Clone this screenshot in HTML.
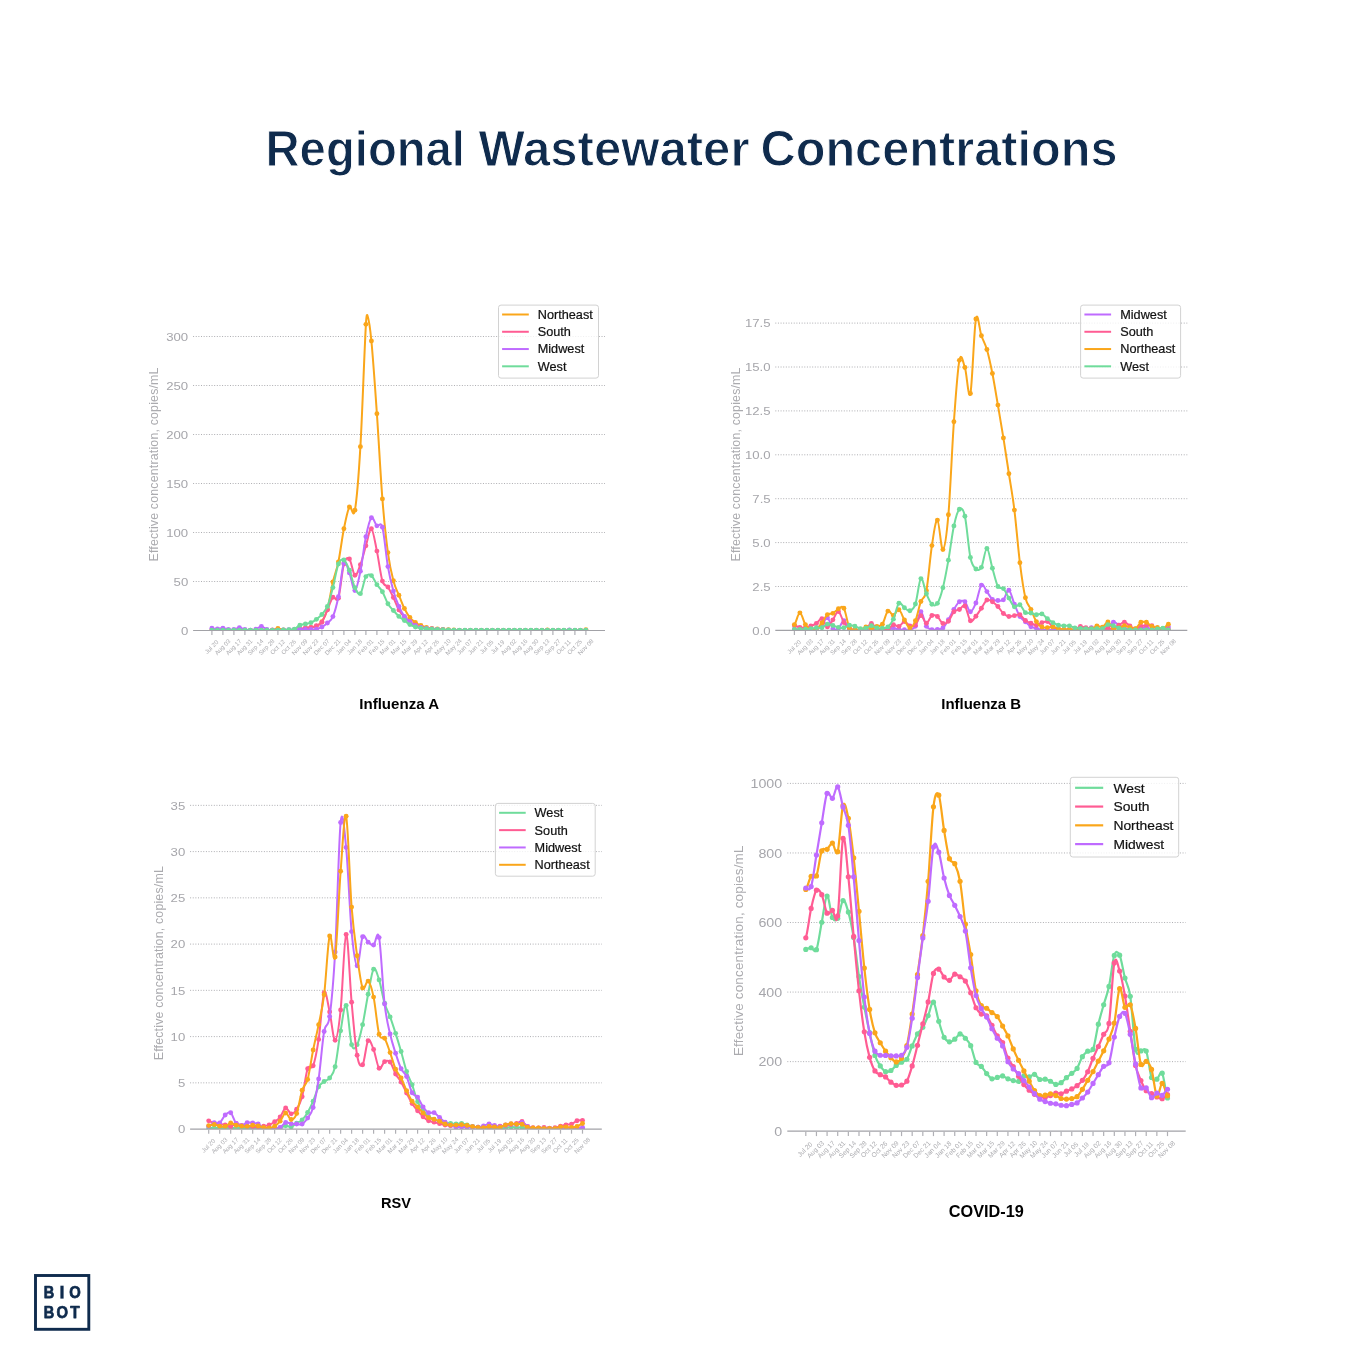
<!DOCTYPE html>
<html><head><meta charset="utf-8"><title>Regional Wastewater Concentrations</title>
<style>
html,body{margin:0;padding:0;background:#fff;}
body{width:1362px;height:1362px;overflow:hidden;font-family:"Liberation Sans",sans-serif;}
svg{display:block;font-family:"Liberation Sans",sans-serif;will-change:transform;}
.g{stroke:#aeaeb2;stroke-width:1;stroke-dasharray:1 1.635;}
.a{stroke:#a2a2a7;stroke-width:1.2;}
.t{stroke:#b0b0b5;stroke-width:1.2;}
.yt{fill:#a6a6ab;text-anchor:end;}
.xt{fill:#acacb0;text-anchor:middle;}
.yl{fill:#ababaf;text-anchor:middle;}
.lt{fill:#111;stroke:#111;stroke-width:0.2;}
.ct{fill:#000;font-weight:bold;text-anchor:middle;}
.hs{fill:#0f2b4d;font-weight:bold;text-anchor:start;stroke:#fff;stroke-width:1;}
.lg{fill:#0f2b4d;font-weight:bold;text-anchor:middle;stroke:#0f2b4d;stroke-width:0.75;stroke-linejoin:round;}
</style></head><body>
<svg width="1362" height="1362" viewBox="0 0 1362 1362">
<rect width="1362" height="1362" fill="#fff"/>
<text x="265.5" y="165.5" class="hs" font-size="50.3" textLength="199.5" lengthAdjust="spacingAndGlyphs">Regional</text>
<text x="478.5" y="165.5" class="hs" font-size="50.3" textLength="271" lengthAdjust="spacingAndGlyphs">Wastewater</text>
<text x="760.5" y="165.5" class="hs" font-size="50.3" textLength="357" lengthAdjust="spacingAndGlyphs">Concentrations</text>
<clipPath id="clipInfluenzaA"><rect x="193.1" y="230.5" width="411.9" height="400"/></clipPath>
<text transform="translate(188.2 634.85) scale(1.125 1)" class="yt" font-size="11.7">0</text>
<line x1="193.1" x2="605" y1="581.5" y2="581.5" class="g"/>
<text transform="translate(188.2 585.85) scale(1.125 1)" class="yt" font-size="11.7">50</text>
<line x1="193.1" x2="605" y1="532.5" y2="532.5" class="g"/>
<text transform="translate(188.2 536.85) scale(1.125 1)" class="yt" font-size="11.7">100</text>
<line x1="193.1" x2="605" y1="483.5" y2="483.5" class="g"/>
<text transform="translate(188.2 487.85) scale(1.125 1)" class="yt" font-size="11.7">150</text>
<line x1="193.1" x2="605" y1="434.5" y2="434.5" class="g"/>
<text transform="translate(188.2 438.85) scale(1.125 1)" class="yt" font-size="11.7">200</text>
<line x1="193.1" x2="605" y1="385.5" y2="385.5" class="g"/>
<text transform="translate(188.2 389.85) scale(1.125 1)" class="yt" font-size="11.7">250</text>
<line x1="193.1" x2="605" y1="336.5" y2="336.5" class="g"/>
<text transform="translate(188.2 340.85) scale(1.125 1)" class="yt" font-size="11.7">300</text>
<g clip-path="url(#clipInfluenzaA)">
<path d="M211.9,630.38C213.73,630.38 215.57,630.38 217.4,630.38C219.23,630.38 221.07,630.38 222.9,630.38C224.73,630.38 226.57,630.38 228.4,630.38C230.23,630.38 232.07,630.38 233.9,630.38C235.73,630.38 237.57,630.38 239.4,630.38C241.23,630.38 243.07,630.38 244.9,630.38C246.73,630.38 248.57,630.38 250.4,630.38C252.23,630.38 254.07,630.38 255.9,630.38C257.73,630.38 259.57,630.38 261.4,630.38C263.23,630.38 265.07,630.38 266.9,630.38C268.73,630.38 270.57,630.69 272.4,630.38C274.23,630.08 276.07,628.6 277.9,628.54C279.73,628.48 281.57,629.7 283.4,630.01C285.23,630.32 287.07,630.32 288.9,630.38C290.73,630.44 292.57,630.38 294.4,630.38C296.23,630.38 298.07,630.69 299.9,630.38C301.73,630.08 303.57,629.01 305.4,628.54C307.23,628.07 309.07,627.97 310.9,627.56C312.73,627.15 314.57,627.07 316.4,626.09C318.23,625.11 320.07,624.47 321.9,621.68C323.73,618.89 325.57,615.96 327.4,609.33C329.23,602.7 331.07,589.8 332.9,581.89C334.73,573.99 336.57,570.75 338.4,561.9C340.23,553.05 342.07,537.92 343.9,528.78C345.73,519.63 347.57,510.12 349.4,507.02C351.23,503.92 353.07,520.22 354.9,510.16C356.73,500.09 358.57,477.62 360.4,446.65C362.23,415.68 364.07,357.92 365.9,324.35C366.45,314.28 367,314.06 367.55,315.72C368.83,319.61 370.12,327.54 371.4,341.01C373.23,360.24 375.07,387.51 376.9,413.82C378.73,440.13 380.57,475.76 382.4,498.89C384.23,522.01 386.07,538.94 387.9,552.59C389.73,566.24 391.57,573.71 393.4,580.81C395.23,587.92 397.07,590.6 398.9,595.22C400.73,599.84 402.57,604.82 404.4,608.55C406.23,612.27 408.07,615.24 409.9,617.56C411.73,619.88 413.57,621.16 415.4,622.46C417.23,623.77 419.07,624.55 420.9,625.4C422.73,626.25 424.57,627.04 426.4,627.56C428.23,628.08 430.07,628.29 431.9,628.54C433.73,628.78 435.57,628.87 437.4,629.03C439.23,629.19 441.07,629.39 442.9,629.52C444.73,629.65 446.57,629.73 448.4,629.81C450.23,629.9 452.07,629.92 453.9,630.01C455.73,630.1 457.57,630.32 459.4,630.38C461.23,630.44 463.07,630.38 464.9,630.38C466.73,630.38 468.57,630.38 470.4,630.38C472.23,630.38 474.07,630.38 475.9,630.38C477.73,630.38 479.57,630.38 481.4,630.38C483.23,630.38 485.07,630.38 486.9,630.38C488.73,630.38 490.57,630.38 492.4,630.38C494.23,630.38 496.07,630.38 497.9,630.38C499.73,630.38 501.57,630.38 503.4,630.38C505.23,630.38 507.07,630.38 508.9,630.38C510.73,630.38 512.57,630.38 514.4,630.38C516.23,630.38 518.07,630.38 519.9,630.38C521.73,630.38 523.57,630.38 525.4,630.38C527.23,630.38 529.07,630.38 530.9,630.38C532.73,630.38 534.57,630.38 536.4,630.38C538.23,630.38 540.07,630.44 541.9,630.38C543.73,630.32 545.57,630.01 547.4,630.01C549.23,630.01 551.07,630.32 552.9,630.38C554.73,630.44 556.57,630.38 558.4,630.38C560.23,630.38 562.07,630.38 563.9,630.38C565.73,630.38 567.57,630.38 569.4,630.38C571.23,630.38 573.07,630.38 574.9,630.38C576.73,630.38 578.57,630.51 580.4,630.38C582.23,630.25 584.07,629.75 585.9,629.62" fill="none" stroke="#FAA61A" stroke-width="2" stroke-linejoin="round" stroke-linecap="round"/>
<g fill="#FAA61A"><circle cx="211.9" cy="630.38" r="2.45"/><circle cx="217.4" cy="630.38" r="2.45"/><circle cx="222.9" cy="630.38" r="2.45"/><circle cx="228.4" cy="630.38" r="2.45"/><circle cx="233.9" cy="630.38" r="2.45"/><circle cx="239.4" cy="630.38" r="2.45"/><circle cx="244.9" cy="630.38" r="2.45"/><circle cx="250.4" cy="630.38" r="2.45"/><circle cx="255.9" cy="630.38" r="2.45"/><circle cx="261.4" cy="630.38" r="2.45"/><circle cx="266.9" cy="630.38" r="2.45"/><circle cx="272.4" cy="630.38" r="2.45"/><circle cx="277.9" cy="628.54" r="2.45"/><circle cx="283.4" cy="630.01" r="2.45"/><circle cx="288.9" cy="630.38" r="2.45"/><circle cx="294.4" cy="630.38" r="2.45"/><circle cx="299.9" cy="630.38" r="2.45"/><circle cx="305.4" cy="628.54" r="2.45"/><circle cx="310.9" cy="627.56" r="2.45"/><circle cx="316.4" cy="626.09" r="2.45"/><circle cx="321.9" cy="621.68" r="2.45"/><circle cx="327.4" cy="609.33" r="2.45"/><circle cx="332.9" cy="581.89" r="2.45"/><circle cx="338.4" cy="561.9" r="2.45"/><circle cx="343.9" cy="528.78" r="2.45"/><circle cx="349.4" cy="507.02" r="2.45"/><circle cx="354.9" cy="510.16" r="2.45"/><circle cx="360.4" cy="446.65" r="2.45"/><circle cx="365.9" cy="324.35" r="2.45"/><circle cx="371.4" cy="341.01" r="2.45"/><circle cx="376.9" cy="413.82" r="2.45"/><circle cx="382.4" cy="498.89" r="2.45"/><circle cx="387.9" cy="552.59" r="2.45"/><circle cx="393.4" cy="580.81" r="2.45"/><circle cx="398.9" cy="595.22" r="2.45"/><circle cx="404.4" cy="608.55" r="2.45"/><circle cx="409.9" cy="617.56" r="2.45"/><circle cx="415.4" cy="622.46" r="2.45"/><circle cx="420.9" cy="625.4" r="2.45"/><circle cx="426.4" cy="627.56" r="2.45"/><circle cx="431.9" cy="628.54" r="2.45"/><circle cx="437.4" cy="629.03" r="2.45"/><circle cx="442.9" cy="629.52" r="2.45"/><circle cx="448.4" cy="629.81" r="2.45"/><circle cx="453.9" cy="630.01" r="2.45"/><circle cx="459.4" cy="630.38" r="2.45"/><circle cx="464.9" cy="630.38" r="2.45"/><circle cx="470.4" cy="630.38" r="2.45"/><circle cx="475.9" cy="630.38" r="2.45"/><circle cx="481.4" cy="630.38" r="2.45"/><circle cx="486.9" cy="630.38" r="2.45"/><circle cx="492.4" cy="630.38" r="2.45"/><circle cx="497.9" cy="630.38" r="2.45"/><circle cx="503.4" cy="630.38" r="2.45"/><circle cx="508.9" cy="630.38" r="2.45"/><circle cx="514.4" cy="630.38" r="2.45"/><circle cx="519.9" cy="630.38" r="2.45"/><circle cx="525.4" cy="630.38" r="2.45"/><circle cx="530.9" cy="630.38" r="2.45"/><circle cx="536.4" cy="630.38" r="2.45"/><circle cx="541.9" cy="630.38" r="2.45"/><circle cx="547.4" cy="630.01" r="2.45"/><circle cx="552.9" cy="630.38" r="2.45"/><circle cx="558.4" cy="630.38" r="2.45"/><circle cx="563.9" cy="630.38" r="2.45"/><circle cx="569.4" cy="630.38" r="2.45"/><circle cx="574.9" cy="630.38" r="2.45"/><circle cx="580.4" cy="630.38" r="2.45"/><circle cx="585.9" cy="629.62" r="2.45"/></g>
<path d="M211.9,630.38C213.73,630.38 215.57,630.38 217.4,630.38C219.23,630.38 221.07,630.38 222.9,630.38C224.73,630.38 226.57,630.38 228.4,630.38C230.23,630.38 232.07,630.38 233.9,630.38C235.73,630.38 237.57,630.38 239.4,630.38C241.23,630.38 243.07,630.38 244.9,630.38C246.73,630.38 248.57,630.38 250.4,630.38C252.23,630.38 254.07,630.38 255.9,630.38C257.73,630.38 259.57,630.38 261.4,630.38C263.23,630.38 265.07,630.46 266.9,630.38C268.73,630.3 270.57,629.91 272.4,629.91C274.23,629.91 276.07,630.3 277.9,630.38C279.73,630.46 281.57,630.38 283.4,630.38C285.23,630.38 287.07,630.38 288.9,630.38C290.73,630.38 292.57,630.61 294.4,630.38C296.23,630.16 298.07,629.47 299.9,629.03C301.73,628.59 303.57,628.03 305.4,627.76C307.23,627.48 309.07,627.69 310.9,627.36C312.73,627.04 314.57,626.65 316.4,625.8C318.23,624.95 320.07,624.91 321.9,622.27C323.73,619.62 325.57,614.08 327.4,609.92C329.23,605.75 331.07,599.24 332.9,597.28C334.73,595.32 336.57,603.7 338.4,598.16C340.23,592.62 342.07,570.57 343.9,564.06C345.73,557.54 347.57,557.2 349.4,559.06C351.23,560.92 353.07,574.3 354.9,575.23C356.73,576.16 358.57,569.54 360.4,564.64C362.23,559.74 364.07,551.81 365.9,545.83C367.73,539.85 369.57,527.89 371.4,528.78C373.23,529.66 375.07,542.4 376.9,551.12C378.73,559.84 380.57,575.13 382.4,581.11C384.23,587.09 386.07,584.24 387.9,586.99C389.73,589.73 391.57,593.75 393.4,597.57C395.23,601.39 397.07,606.69 398.9,609.92C400.73,613.15 402.57,615.02 404.4,616.98C406.23,618.94 408.07,620.31 409.9,621.68C411.73,623.05 413.57,624.26 415.4,625.21C417.23,626.16 419.07,626.81 420.9,627.36C422.73,627.92 424.57,628.26 426.4,628.54C428.23,628.82 430.07,628.87 431.9,629.03C433.73,629.19 435.57,629.39 437.4,629.52C439.23,629.65 441.07,629.72 442.9,629.81C444.73,629.91 446.57,630.01 448.4,630.11C450.23,630.2 452.07,630.34 453.9,630.38C455.73,630.43 457.57,630.38 459.4,630.38C461.23,630.38 463.07,630.38 464.9,630.38C466.73,630.38 468.57,630.38 470.4,630.38C472.23,630.38 474.07,630.38 475.9,630.38C477.73,630.38 479.57,630.38 481.4,630.38C483.23,630.38 485.07,630.38 486.9,630.38C488.73,630.38 490.57,630.38 492.4,630.38C494.23,630.38 496.07,630.38 497.9,630.38C499.73,630.38 501.57,630.38 503.4,630.38C505.23,630.38 507.07,630.38 508.9,630.38C510.73,630.38 512.57,630.38 514.4,630.38C516.23,630.38 518.07,630.38 519.9,630.38C521.73,630.38 523.57,630.38 525.4,630.38C527.23,630.38 529.07,630.38 530.9,630.38C532.73,630.38 534.57,630.38 536.4,630.38C538.23,630.38 540.07,630.38 541.9,630.38C543.73,630.38 545.57,630.38 547.4,630.38C549.23,630.38 551.07,630.38 552.9,630.38C554.73,630.38 556.57,630.38 558.4,630.38C560.23,630.38 562.07,630.38 563.9,630.38C565.73,630.38 567.57,630.38 569.4,630.38C571.23,630.38 573.07,630.38 574.9,630.38C576.73,630.38 578.57,630.38 580.4,630.38C582.23,630.38 584.07,630.38 585.9,630.38" fill="none" stroke="#FF5C93" stroke-width="2" stroke-linejoin="round" stroke-linecap="round"/>
<g fill="#FF5C93"><circle cx="211.9" cy="630.38" r="2.45"/><circle cx="217.4" cy="630.38" r="2.45"/><circle cx="222.9" cy="630.38" r="2.45"/><circle cx="228.4" cy="630.38" r="2.45"/><circle cx="233.9" cy="630.38" r="2.45"/><circle cx="239.4" cy="630.38" r="2.45"/><circle cx="244.9" cy="630.38" r="2.45"/><circle cx="250.4" cy="630.38" r="2.45"/><circle cx="255.9" cy="630.38" r="2.45"/><circle cx="261.4" cy="630.38" r="2.45"/><circle cx="266.9" cy="630.38" r="2.45"/><circle cx="272.4" cy="629.91" r="2.45"/><circle cx="277.9" cy="630.38" r="2.45"/><circle cx="283.4" cy="630.38" r="2.45"/><circle cx="288.9" cy="630.38" r="2.45"/><circle cx="294.4" cy="630.38" r="2.45"/><circle cx="299.9" cy="629.03" r="2.45"/><circle cx="305.4" cy="627.76" r="2.45"/><circle cx="310.9" cy="627.36" r="2.45"/><circle cx="316.4" cy="625.8" r="2.45"/><circle cx="321.9" cy="622.27" r="2.45"/><circle cx="327.4" cy="609.92" r="2.45"/><circle cx="332.9" cy="597.28" r="2.45"/><circle cx="338.4" cy="598.16" r="2.45"/><circle cx="343.9" cy="564.06" r="2.45"/><circle cx="349.4" cy="559.06" r="2.45"/><circle cx="354.9" cy="575.23" r="2.45"/><circle cx="360.4" cy="564.64" r="2.45"/><circle cx="365.9" cy="545.83" r="2.45"/><circle cx="371.4" cy="528.78" r="2.45"/><circle cx="376.9" cy="551.12" r="2.45"/><circle cx="382.4" cy="581.11" r="2.45"/><circle cx="387.9" cy="586.99" r="2.45"/><circle cx="393.4" cy="597.57" r="2.45"/><circle cx="398.9" cy="609.92" r="2.45"/><circle cx="404.4" cy="616.98" r="2.45"/><circle cx="409.9" cy="621.68" r="2.45"/><circle cx="415.4" cy="625.21" r="2.45"/><circle cx="420.9" cy="627.36" r="2.45"/><circle cx="426.4" cy="628.54" r="2.45"/><circle cx="431.9" cy="629.03" r="2.45"/><circle cx="437.4" cy="629.52" r="2.45"/><circle cx="442.9" cy="629.81" r="2.45"/><circle cx="448.4" cy="630.11" r="2.45"/><circle cx="453.9" cy="630.38" r="2.45"/><circle cx="459.4" cy="630.38" r="2.45"/><circle cx="464.9" cy="630.38" r="2.45"/><circle cx="470.4" cy="630.38" r="2.45"/><circle cx="475.9" cy="630.38" r="2.45"/><circle cx="481.4" cy="630.38" r="2.45"/><circle cx="486.9" cy="630.38" r="2.45"/><circle cx="492.4" cy="630.38" r="2.45"/><circle cx="497.9" cy="630.38" r="2.45"/><circle cx="503.4" cy="630.38" r="2.45"/><circle cx="508.9" cy="630.38" r="2.45"/><circle cx="514.4" cy="630.38" r="2.45"/><circle cx="519.9" cy="630.38" r="2.45"/><circle cx="525.4" cy="630.38" r="2.45"/><circle cx="530.9" cy="630.38" r="2.45"/><circle cx="536.4" cy="630.38" r="2.45"/><circle cx="541.9" cy="630.38" r="2.45"/><circle cx="547.4" cy="630.38" r="2.45"/><circle cx="552.9" cy="630.38" r="2.45"/><circle cx="558.4" cy="630.38" r="2.45"/><circle cx="563.9" cy="630.38" r="2.45"/><circle cx="569.4" cy="630.38" r="2.45"/><circle cx="574.9" cy="630.38" r="2.45"/><circle cx="580.4" cy="630.38" r="2.45"/><circle cx="585.9" cy="630.38" r="2.45"/></g>
<path d="M211.9,628.25C213.73,628.38 215.57,629.05 217.4,629.03C219.23,629.01 221.07,628.08 222.9,628.15C224.73,628.21 226.57,629.19 228.4,629.42C230.23,629.65 232.07,629.8 233.9,629.52C235.73,629.24 237.57,627.77 239.4,627.76C241.23,627.74 243.07,629.01 244.9,629.42C246.73,629.83 248.57,630.24 250.4,630.21C252.23,630.17 254.07,629.85 255.9,629.23C257.73,628.61 259.57,626.45 261.4,626.48C263.23,626.51 265.07,628.8 266.9,629.42C268.73,630.04 270.57,630.08 272.4,630.21C274.23,630.34 276.07,630.24 277.9,630.21C279.73,630.17 281.57,630.09 283.4,630.01C285.23,629.93 287.07,629.8 288.9,629.72C290.73,629.63 292.57,629.55 294.4,629.52C296.23,629.49 298.07,629.52 299.9,629.52C301.73,629.52 303.57,629.52 305.4,629.52C307.23,629.52 309.07,629.55 310.9,629.52C312.73,629.49 314.57,629.75 316.4,629.32C318.23,628.9 320.07,628.02 321.9,626.97C323.73,625.93 325.57,624.78 327.4,623.05C329.23,621.32 331.07,620.98 332.9,616.58C334.73,612.19 336.57,605.64 338.4,596.69C340.23,587.74 342.07,566.85 343.9,562.88C345.73,558.91 347.57,568.27 349.4,572.88C351.23,577.48 353.07,590.78 354.9,590.52C356.73,590.25 358.57,580.27 360.4,571.31C362.23,562.34 364.07,545.63 365.9,536.71C367.73,527.8 369.57,519.61 371.4,517.8C373.23,515.99 375.07,524.27 376.9,525.84C378.73,527.4 380.57,520.41 382.4,527.21C384.23,534 386.07,555.95 387.9,566.6C389.73,577.25 391.57,584.47 393.4,591.1C395.23,597.74 397.07,602.18 398.9,606.39C400.73,610.61 402.57,613.84 404.4,616.39C406.23,618.94 408.07,620.14 409.9,621.68C411.73,623.22 413.57,624.62 415.4,625.6C417.23,626.58 419.07,627.07 420.9,627.56C422.73,628.05 424.57,628.29 426.4,628.54C428.23,628.78 430.07,628.87 431.9,629.03C433.73,629.19 435.57,629.37 437.4,629.52C439.23,629.67 441.07,629.81 442.9,629.91C444.73,630.01 446.57,630.03 448.4,630.11C450.23,630.19 452.07,630.34 453.9,630.38C455.73,630.43 457.57,630.38 459.4,630.38C461.23,630.38 463.07,630.38 464.9,630.38C466.73,630.38 468.57,630.38 470.4,630.38C472.23,630.38 474.07,630.38 475.9,630.38C477.73,630.38 479.57,630.38 481.4,630.38C483.23,630.38 485.07,630.38 486.9,630.38C488.73,630.38 490.57,630.38 492.4,630.38C494.23,630.38 496.07,630.38 497.9,630.38C499.73,630.38 501.57,630.38 503.4,630.38C505.23,630.38 507.07,630.38 508.9,630.38C510.73,630.38 512.57,630.38 514.4,630.38C516.23,630.38 518.07,630.38 519.9,630.38C521.73,630.38 523.57,630.38 525.4,630.38C527.23,630.38 529.07,630.38 530.9,630.38C532.73,630.38 534.57,630.38 536.4,630.38C538.23,630.38 540.07,630.38 541.9,630.38C543.73,630.38 545.57,630.38 547.4,630.38C549.23,630.38 551.07,630.38 552.9,630.38C554.73,630.38 556.57,630.38 558.4,630.38C560.23,630.38 562.07,630.44 563.9,630.38C565.73,630.32 567.57,630.01 569.4,630.01C571.23,630.01 573.07,630.32 574.9,630.38C576.73,630.44 578.57,630.38 580.4,630.38C582.23,630.38 584.07,630.38 585.9,630.38" fill="none" stroke="#BF6BFF" stroke-width="2" stroke-linejoin="round" stroke-linecap="round"/>
<g fill="#BF6BFF"><circle cx="211.9" cy="628.25" r="2.45"/><circle cx="217.4" cy="629.03" r="2.45"/><circle cx="222.9" cy="628.15" r="2.45"/><circle cx="228.4" cy="629.42" r="2.45"/><circle cx="233.9" cy="629.52" r="2.45"/><circle cx="239.4" cy="627.76" r="2.45"/><circle cx="244.9" cy="629.42" r="2.45"/><circle cx="250.4" cy="630.21" r="2.45"/><circle cx="255.9" cy="629.23" r="2.45"/><circle cx="261.4" cy="626.48" r="2.45"/><circle cx="266.9" cy="629.42" r="2.45"/><circle cx="272.4" cy="630.21" r="2.45"/><circle cx="277.9" cy="630.21" r="2.45"/><circle cx="283.4" cy="630.01" r="2.45"/><circle cx="288.9" cy="629.72" r="2.45"/><circle cx="294.4" cy="629.52" r="2.45"/><circle cx="299.9" cy="629.52" r="2.45"/><circle cx="305.4" cy="629.52" r="2.45"/><circle cx="310.9" cy="629.52" r="2.45"/><circle cx="316.4" cy="629.32" r="2.45"/><circle cx="321.9" cy="626.97" r="2.45"/><circle cx="327.4" cy="623.05" r="2.45"/><circle cx="332.9" cy="616.58" r="2.45"/><circle cx="338.4" cy="596.69" r="2.45"/><circle cx="343.9" cy="562.88" r="2.45"/><circle cx="349.4" cy="572.88" r="2.45"/><circle cx="354.9" cy="590.52" r="2.45"/><circle cx="360.4" cy="571.31" r="2.45"/><circle cx="365.9" cy="536.71" r="2.45"/><circle cx="371.4" cy="517.8" r="2.45"/><circle cx="376.9" cy="525.84" r="2.45"/><circle cx="382.4" cy="527.21" r="2.45"/><circle cx="387.9" cy="566.6" r="2.45"/><circle cx="393.4" cy="591.1" r="2.45"/><circle cx="398.9" cy="606.39" r="2.45"/><circle cx="404.4" cy="616.39" r="2.45"/><circle cx="409.9" cy="621.68" r="2.45"/><circle cx="415.4" cy="625.6" r="2.45"/><circle cx="420.9" cy="627.56" r="2.45"/><circle cx="426.4" cy="628.54" r="2.45"/><circle cx="431.9" cy="629.03" r="2.45"/><circle cx="437.4" cy="629.52" r="2.45"/><circle cx="442.9" cy="629.91" r="2.45"/><circle cx="448.4" cy="630.11" r="2.45"/><circle cx="453.9" cy="630.38" r="2.45"/><circle cx="459.4" cy="630.38" r="2.45"/><circle cx="464.9" cy="630.38" r="2.45"/><circle cx="470.4" cy="630.38" r="2.45"/><circle cx="475.9" cy="630.38" r="2.45"/><circle cx="481.4" cy="630.38" r="2.45"/><circle cx="486.9" cy="630.38" r="2.45"/><circle cx="492.4" cy="630.38" r="2.45"/><circle cx="497.9" cy="630.38" r="2.45"/><circle cx="503.4" cy="630.38" r="2.45"/><circle cx="508.9" cy="630.38" r="2.45"/><circle cx="514.4" cy="630.38" r="2.45"/><circle cx="519.9" cy="630.38" r="2.45"/><circle cx="525.4" cy="630.38" r="2.45"/><circle cx="530.9" cy="630.38" r="2.45"/><circle cx="536.4" cy="630.38" r="2.45"/><circle cx="541.9" cy="630.38" r="2.45"/><circle cx="547.4" cy="630.38" r="2.45"/><circle cx="552.9" cy="630.38" r="2.45"/><circle cx="558.4" cy="630.38" r="2.45"/><circle cx="563.9" cy="630.38" r="2.45"/><circle cx="569.4" cy="630.01" r="2.45"/><circle cx="574.9" cy="630.38" r="2.45"/><circle cx="580.4" cy="630.38" r="2.45"/><circle cx="585.9" cy="630.38" r="2.45"/></g>
<path d="M211.9,630.21C213.73,630.21 215.57,630.21 217.4,630.21C219.23,630.21 221.07,630.21 222.9,630.21C224.73,630.21 226.57,630.21 228.4,630.21C230.23,630.21 232.07,630.21 233.9,630.21C235.73,630.21 237.57,630.21 239.4,630.21C241.23,630.21 243.07,630.21 244.9,630.21C246.73,630.21 248.57,630.21 250.4,630.21C252.23,630.21 254.07,630.21 255.9,630.21C257.73,630.21 259.57,630.21 261.4,630.21C263.23,630.21 265.07,630.21 266.9,630.21C268.73,630.21 270.57,630.21 272.4,630.21C274.23,630.21 276.07,630.24 277.9,630.21C279.73,630.17 281.57,630.09 283.4,630.01C285.23,629.93 287.07,629.86 288.9,629.72C290.73,629.57 292.57,629.88 294.4,629.13C296.23,628.38 298.07,626.06 299.9,625.21C301.73,624.36 303.57,624.46 305.4,624.03C307.23,623.61 309.07,623.44 310.9,622.66C312.73,621.88 314.57,620.7 316.4,619.33C318.23,617.96 320.07,616.58 321.9,614.43C323.73,612.27 325.57,610.87 327.4,606.39C329.23,601.92 331.07,594.63 332.9,587.58C334.73,580.52 336.57,568.66 338.4,564.06C340.23,559.45 342.07,558.91 343.9,559.94C345.73,560.97 347.57,565.62 349.4,570.23C351.23,574.84 353.07,583.67 354.9,587.58C356.73,591.48 358.57,595.48 360.4,593.65C362.23,591.82 364.07,579.61 365.9,576.6C367.73,573.59 369.57,574.28 371.4,575.62C373.23,576.96 375.07,581.96 376.9,584.64C378.73,587.31 380.57,588.51 382.4,591.69C384.23,594.88 386.07,600.61 387.9,603.75C389.73,606.88 391.57,608.4 393.4,610.51C395.23,612.62 397.07,614.72 398.9,616.39C400.73,618.05 402.57,619.13 404.4,620.5C406.23,621.88 408.07,623.54 409.9,624.62C411.73,625.7 413.57,626.38 415.4,626.97C417.23,627.56 419.07,627.85 420.9,628.15C422.73,628.44 424.57,628.57 426.4,628.74C428.23,628.9 430.07,629 431.9,629.13C433.73,629.26 435.57,629.41 437.4,629.52C439.23,629.63 441.07,629.73 442.9,629.81C444.73,629.9 446.57,629.96 448.4,630.01C450.23,630.06 452.07,630.08 453.9,630.11C455.73,630.14 457.57,630.19 459.4,630.21C461.23,630.22 463.07,630.21 464.9,630.21C466.73,630.21 468.57,630.21 470.4,630.21C472.23,630.21 474.07,630.21 475.9,630.21C477.73,630.21 479.57,630.21 481.4,630.21C483.23,630.21 485.07,630.21 486.9,630.21C488.73,630.21 490.57,630.21 492.4,630.21C494.23,630.21 496.07,630.21 497.9,630.21C499.73,630.21 501.57,630.21 503.4,630.21C505.23,630.21 507.07,630.21 508.9,630.21C510.73,630.21 512.57,630.21 514.4,630.21C516.23,630.21 518.07,630.21 519.9,630.21C521.73,630.21 523.57,630.21 525.4,630.21C527.23,630.21 529.07,630.21 530.9,630.21C532.73,630.21 534.57,630.21 536.4,630.21C538.23,630.21 540.07,630.21 541.9,630.21C543.73,630.21 545.57,630.21 547.4,630.21C549.23,630.21 551.07,630.21 552.9,630.21C554.73,630.21 556.57,630.21 558.4,630.21C560.23,630.21 562.07,630.21 563.9,630.21C565.73,630.21 567.57,630.21 569.4,630.21C571.23,630.21 573.07,630.21 574.9,630.21C576.73,630.21 578.57,630.21 580.4,630.21C582.23,630.21 584.07,630.21 585.9,630.21" fill="none" stroke="#6FDC9B" stroke-width="2" stroke-linejoin="round" stroke-linecap="round"/>
<g fill="#6FDC9B"><circle cx="211.9" cy="630.21" r="2.45"/><circle cx="217.4" cy="630.21" r="2.45"/><circle cx="222.9" cy="630.21" r="2.45"/><circle cx="228.4" cy="630.21" r="2.45"/><circle cx="233.9" cy="630.21" r="2.45"/><circle cx="239.4" cy="630.21" r="2.45"/><circle cx="244.9" cy="630.21" r="2.45"/><circle cx="250.4" cy="630.21" r="2.45"/><circle cx="255.9" cy="630.21" r="2.45"/><circle cx="261.4" cy="630.21" r="2.45"/><circle cx="266.9" cy="630.21" r="2.45"/><circle cx="272.4" cy="630.21" r="2.45"/><circle cx="277.9" cy="630.21" r="2.45"/><circle cx="283.4" cy="630.01" r="2.45"/><circle cx="288.9" cy="629.72" r="2.45"/><circle cx="294.4" cy="629.13" r="2.45"/><circle cx="299.9" cy="625.21" r="2.45"/><circle cx="305.4" cy="624.03" r="2.45"/><circle cx="310.9" cy="622.66" r="2.45"/><circle cx="316.4" cy="619.33" r="2.45"/><circle cx="321.9" cy="614.43" r="2.45"/><circle cx="327.4" cy="606.39" r="2.45"/><circle cx="332.9" cy="587.58" r="2.45"/><circle cx="338.4" cy="564.06" r="2.45"/><circle cx="343.9" cy="559.94" r="2.45"/><circle cx="349.4" cy="570.23" r="2.45"/><circle cx="354.9" cy="587.58" r="2.45"/><circle cx="360.4" cy="593.65" r="2.45"/><circle cx="365.9" cy="576.6" r="2.45"/><circle cx="371.4" cy="575.62" r="2.45"/><circle cx="376.9" cy="584.64" r="2.45"/><circle cx="382.4" cy="591.69" r="2.45"/><circle cx="387.9" cy="603.75" r="2.45"/><circle cx="393.4" cy="610.51" r="2.45"/><circle cx="398.9" cy="616.39" r="2.45"/><circle cx="404.4" cy="620.5" r="2.45"/><circle cx="409.9" cy="624.62" r="2.45"/><circle cx="415.4" cy="626.97" r="2.45"/><circle cx="420.9" cy="628.15" r="2.45"/><circle cx="426.4" cy="628.74" r="2.45"/><circle cx="431.9" cy="629.13" r="2.45"/><circle cx="437.4" cy="629.52" r="2.45"/><circle cx="442.9" cy="629.81" r="2.45"/><circle cx="448.4" cy="630.01" r="2.45"/><circle cx="453.9" cy="630.11" r="2.45"/><circle cx="459.4" cy="630.21" r="2.45"/><circle cx="464.9" cy="630.21" r="2.45"/><circle cx="470.4" cy="630.21" r="2.45"/><circle cx="475.9" cy="630.21" r="2.45"/><circle cx="481.4" cy="630.21" r="2.45"/><circle cx="486.9" cy="630.21" r="2.45"/><circle cx="492.4" cy="630.21" r="2.45"/><circle cx="497.9" cy="630.21" r="2.45"/><circle cx="503.4" cy="630.21" r="2.45"/><circle cx="508.9" cy="630.21" r="2.45"/><circle cx="514.4" cy="630.21" r="2.45"/><circle cx="519.9" cy="630.21" r="2.45"/><circle cx="525.4" cy="630.21" r="2.45"/><circle cx="530.9" cy="630.21" r="2.45"/><circle cx="536.4" cy="630.21" r="2.45"/><circle cx="541.9" cy="630.21" r="2.45"/><circle cx="547.4" cy="630.21" r="2.45"/><circle cx="552.9" cy="630.21" r="2.45"/><circle cx="558.4" cy="630.21" r="2.45"/><circle cx="563.9" cy="630.21" r="2.45"/><circle cx="569.4" cy="630.21" r="2.45"/><circle cx="574.9" cy="630.21" r="2.45"/><circle cx="580.4" cy="630.21" r="2.45"/><circle cx="585.9" cy="630.21" r="2.45"/></g>
</g>
<line x1="193.1" x2="605" y1="630.5" y2="630.5" class="a"/>
<line x1="211.9" x2="211.9" y1="631.1" y2="635.1" class="t"/>
<text x="211.55" y="649.15" class="xt" font-size="6.2" transform="rotate(-45 211.55 646.95)">Jul 20</text>
<line x1="222.9" x2="222.9" y1="631.1" y2="635.1" class="t"/>
<text x="222.55" y="649.15" class="xt" font-size="6.2" transform="rotate(-45 222.55 646.95)">Aug 03</text>
<line x1="233.9" x2="233.9" y1="631.1" y2="635.1" class="t"/>
<text x="233.55" y="649.15" class="xt" font-size="6.2" transform="rotate(-45 233.55 646.95)">Aug 17</text>
<line x1="244.9" x2="244.9" y1="631.1" y2="635.1" class="t"/>
<text x="244.55" y="649.15" class="xt" font-size="6.2" transform="rotate(-45 244.55 646.95)">Aug 31</text>
<line x1="255.9" x2="255.9" y1="631.1" y2="635.1" class="t"/>
<text x="255.55" y="649.15" class="xt" font-size="6.2" transform="rotate(-45 255.55 646.95)">Sep 14</text>
<line x1="266.9" x2="266.9" y1="631.1" y2="635.1" class="t"/>
<text x="266.55" y="649.15" class="xt" font-size="6.2" transform="rotate(-45 266.55 646.95)">Sep 28</text>
<line x1="277.9" x2="277.9" y1="631.1" y2="635.1" class="t"/>
<text x="277.55" y="649.15" class="xt" font-size="6.2" transform="rotate(-45 277.55 646.95)">Oct 12</text>
<line x1="288.9" x2="288.9" y1="631.1" y2="635.1" class="t"/>
<text x="288.55" y="649.15" class="xt" font-size="6.2" transform="rotate(-45 288.55 646.95)">Oct 26</text>
<line x1="299.9" x2="299.9" y1="631.1" y2="635.1" class="t"/>
<text x="299.55" y="649.15" class="xt" font-size="6.2" transform="rotate(-45 299.55 646.95)">Nov 09</text>
<line x1="310.9" x2="310.9" y1="631.1" y2="635.1" class="t"/>
<text x="310.55" y="649.15" class="xt" font-size="6.2" transform="rotate(-45 310.55 646.95)">Nov 23</text>
<line x1="321.9" x2="321.9" y1="631.1" y2="635.1" class="t"/>
<text x="321.55" y="649.15" class="xt" font-size="6.2" transform="rotate(-45 321.55 646.95)">Dec 07</text>
<line x1="332.9" x2="332.9" y1="631.1" y2="635.1" class="t"/>
<text x="332.55" y="649.15" class="xt" font-size="6.2" transform="rotate(-45 332.55 646.95)">Dec 21</text>
<line x1="343.9" x2="343.9" y1="631.1" y2="635.1" class="t"/>
<text x="343.55" y="649.15" class="xt" font-size="6.2" transform="rotate(-45 343.55 646.95)">Jan 04</text>
<line x1="354.9" x2="354.9" y1="631.1" y2="635.1" class="t"/>
<text x="354.55" y="649.15" class="xt" font-size="6.2" transform="rotate(-45 354.55 646.95)">Jan 18</text>
<line x1="365.9" x2="365.9" y1="631.1" y2="635.1" class="t"/>
<text x="365.55" y="649.15" class="xt" font-size="6.2" transform="rotate(-45 365.55 646.95)">Feb 01</text>
<line x1="376.9" x2="376.9" y1="631.1" y2="635.1" class="t"/>
<text x="376.55" y="649.15" class="xt" font-size="6.2" transform="rotate(-45 376.55 646.95)">Feb 15</text>
<line x1="387.9" x2="387.9" y1="631.1" y2="635.1" class="t"/>
<text x="387.55" y="649.15" class="xt" font-size="6.2" transform="rotate(-45 387.55 646.95)">Mar 01</text>
<line x1="398.9" x2="398.9" y1="631.1" y2="635.1" class="t"/>
<text x="398.55" y="649.15" class="xt" font-size="6.2" transform="rotate(-45 398.55 646.95)">Mar 15</text>
<line x1="409.9" x2="409.9" y1="631.1" y2="635.1" class="t"/>
<text x="409.55" y="649.15" class="xt" font-size="6.2" transform="rotate(-45 409.55 646.95)">Mar 29</text>
<line x1="420.9" x2="420.9" y1="631.1" y2="635.1" class="t"/>
<text x="420.55" y="649.15" class="xt" font-size="6.2" transform="rotate(-45 420.55 646.95)">Apr 12</text>
<line x1="431.9" x2="431.9" y1="631.1" y2="635.1" class="t"/>
<text x="431.55" y="649.15" class="xt" font-size="6.2" transform="rotate(-45 431.55 646.95)">Apr 26</text>
<line x1="442.9" x2="442.9" y1="631.1" y2="635.1" class="t"/>
<text x="442.55" y="649.15" class="xt" font-size="6.2" transform="rotate(-45 442.55 646.95)">May 10</text>
<line x1="453.9" x2="453.9" y1="631.1" y2="635.1" class="t"/>
<text x="453.55" y="649.15" class="xt" font-size="6.2" transform="rotate(-45 453.55 646.95)">May 24</text>
<line x1="464.9" x2="464.9" y1="631.1" y2="635.1" class="t"/>
<text x="464.55" y="649.15" class="xt" font-size="6.2" transform="rotate(-45 464.55 646.95)">Jun 07</text>
<line x1="475.9" x2="475.9" y1="631.1" y2="635.1" class="t"/>
<text x="475.55" y="649.15" class="xt" font-size="6.2" transform="rotate(-45 475.55 646.95)">Jun 21</text>
<line x1="486.9" x2="486.9" y1="631.1" y2="635.1" class="t"/>
<text x="486.55" y="649.15" class="xt" font-size="6.2" transform="rotate(-45 486.55 646.95)">Jul 05</text>
<line x1="497.9" x2="497.9" y1="631.1" y2="635.1" class="t"/>
<text x="497.55" y="649.15" class="xt" font-size="6.2" transform="rotate(-45 497.55 646.95)">Jul 19</text>
<line x1="508.9" x2="508.9" y1="631.1" y2="635.1" class="t"/>
<text x="508.55" y="649.15" class="xt" font-size="6.2" transform="rotate(-45 508.55 646.95)">Aug 02</text>
<line x1="519.9" x2="519.9" y1="631.1" y2="635.1" class="t"/>
<text x="519.55" y="649.15" class="xt" font-size="6.2" transform="rotate(-45 519.55 646.95)">Aug 16</text>
<line x1="530.9" x2="530.9" y1="631.1" y2="635.1" class="t"/>
<text x="530.55" y="649.15" class="xt" font-size="6.2" transform="rotate(-45 530.55 646.95)">Aug 30</text>
<line x1="541.9" x2="541.9" y1="631.1" y2="635.1" class="t"/>
<text x="541.55" y="649.15" class="xt" font-size="6.2" transform="rotate(-45 541.55 646.95)">Sep 13</text>
<line x1="552.9" x2="552.9" y1="631.1" y2="635.1" class="t"/>
<text x="552.55" y="649.15" class="xt" font-size="6.2" transform="rotate(-45 552.55 646.95)">Sep 27</text>
<line x1="563.9" x2="563.9" y1="631.1" y2="635.1" class="t"/>
<text x="563.55" y="649.15" class="xt" font-size="6.2" transform="rotate(-45 563.55 646.95)">Oct 11</text>
<line x1="574.9" x2="574.9" y1="631.1" y2="635.1" class="t"/>
<text x="574.55" y="649.15" class="xt" font-size="6.2" transform="rotate(-45 574.55 646.95)">Oct 25</text>
<line x1="585.9" x2="585.9" y1="631.1" y2="635.1" class="t"/>
<text x="585.55" y="649.15" class="xt" font-size="6.2" transform="rotate(-45 585.55 646.95)">Nov 08</text>
<text x="158.4" y="464.5" class="yl" font-size="12.4" textLength="194" lengthAdjust="spacing" transform="rotate(-90 158.4 464.5)">Effective concentration, copies/mL</text>
<rect x="498.5" y="305.1" width="100" height="73" rx="2.5" fill="#fff" fill-opacity="0.8" stroke="#d2d2d2" stroke-width="1"/>
<line x1="502.1" x2="528.8" y1="314.5" y2="314.5" stroke="#FAA61A" stroke-width="2"/>
<text transform="translate(537.7 318.9) scale(1.06 1)" class="lt" font-size="12">Northeast</text>
<line x1="502.1" x2="528.8" y1="331.77" y2="331.77" stroke="#FF5C93" stroke-width="2"/>
<text transform="translate(537.7 336.17) scale(1.06 1)" class="lt" font-size="12">South</text>
<line x1="502.1" x2="528.8" y1="349.04" y2="349.04" stroke="#BF6BFF" stroke-width="2"/>
<text transform="translate(537.7 353.44) scale(1.06 1)" class="lt" font-size="12">Midwest</text>
<line x1="502.1" x2="528.8" y1="366.31" y2="366.31" stroke="#6FDC9B" stroke-width="2"/>
<text transform="translate(537.7 370.71) scale(1.06 1)" class="lt" font-size="12">West</text>
<text x="399.15" y="709.2" class="ct" font-size="14.6" textLength="79.8" lengthAdjust="spacingAndGlyphs">Influenza A</text>
<clipPath id="clipInfluenzaB"><rect x="775.3" y="230.4" width="412" height="400"/></clipPath>
<text transform="translate(770.6 634.75) scale(1.125 1)" class="yt" font-size="11.7">0.0</text>
<line x1="775.3" x2="1187.3" y1="586.5" y2="586.5" class="g"/>
<text transform="translate(770.6 590.85) scale(1.125 1)" class="yt" font-size="11.7">2.5</text>
<line x1="775.3" x2="1187.3" y1="542.6" y2="542.6" class="g"/>
<text transform="translate(770.6 546.95) scale(1.125 1)" class="yt" font-size="11.7">5.0</text>
<line x1="775.3" x2="1187.3" y1="498.7" y2="498.7" class="g"/>
<text transform="translate(770.6 503.05) scale(1.125 1)" class="yt" font-size="11.7">7.5</text>
<line x1="775.3" x2="1187.3" y1="454.8" y2="454.8" class="g"/>
<text transform="translate(770.6 459.15) scale(1.125 1)" class="yt" font-size="11.7">10.0</text>
<line x1="775.3" x2="1187.3" y1="410.9" y2="410.9" class="g"/>
<text transform="translate(770.6 415.25) scale(1.125 1)" class="yt" font-size="11.7">12.5</text>
<line x1="775.3" x2="1187.3" y1="367" y2="367" class="g"/>
<text transform="translate(770.6 371.35) scale(1.125 1)" class="yt" font-size="11.7">15.0</text>
<line x1="775.3" x2="1187.3" y1="323.1" y2="323.1" class="g"/>
<text transform="translate(770.6 327.45) scale(1.125 1)" class="yt" font-size="11.7">17.5</text>
<g clip-path="url(#clipInfluenzaB)">
<path d="M794.4,629.52C796.23,629.52 798.07,629.52 799.9,629.52C801.73,629.52 803.57,629.52 805.4,629.52C807.23,629.52 809.07,629.67 810.9,629.52C812.73,629.38 814.57,629.38 816.4,628.64C818.23,627.91 820.07,626.95 821.9,625.13C823.73,623.32 825.57,617.17 827.4,617.76C829.23,618.34 831.07,626.83 832.9,628.64C834.73,630.46 836.57,629.96 838.4,628.64C840.23,627.33 842.07,620.6 843.9,620.74C845.73,620.89 847.57,627.97 849.4,629.52C851.23,631.07 853.07,629.96 854.9,630.05C856.73,630.14 858.57,630.05 860.4,630.05C862.23,630.05 864.07,630.05 865.9,630.05C867.73,630.05 869.57,630.05 871.4,630.05C873.23,630.05 875.07,630.05 876.9,630.05C878.73,630.05 880.57,630.05 882.4,630.05C884.23,630.05 886.07,630.34 887.9,630.05C889.73,629.76 891.57,628.38 893.4,628.29C895.23,628.2 897.07,629.29 898.9,629.52C900.73,629.76 902.57,629.61 904.4,629.7C906.23,629.79 908.07,630.63 909.9,630.05C911.73,629.46 913.57,629.23 915.4,626.19C917.23,623.14 919.07,611.79 920.9,611.79C922.73,611.79 924.57,623.2 926.4,626.19C928.23,629.17 930.07,629.17 931.9,629.7C933.73,630.22 935.57,629.64 937.4,629.35C939.23,629.05 941.07,629.55 942.9,627.94C944.73,626.33 946.57,622.79 948.4,619.69C950.23,616.59 952.07,612.31 953.9,609.33C955.73,606.34 957.57,603.04 959.4,601.78C961.23,600.52 963.07,600.11 964.9,601.78C966.73,603.45 968.57,611.58 970.4,611.79C972.23,611.99 974.07,607.45 975.9,603.01C977.73,598.56 979.57,587 981.4,585.1C983.23,583.19 985.07,589.19 986.9,591.59C988.73,593.99 990.57,598 992.4,599.49C994.23,600.99 996.07,600.49 997.9,600.55C999.73,600.61 1001.57,601.57 1003.4,599.85C1005.23,598.12 1007.07,589.46 1008.9,590.19C1010.73,590.92 1012.57,599.85 1014.4,604.24C1016.23,608.63 1018.07,613.6 1019.9,616.53C1021.73,619.45 1023.57,620.1 1025.4,621.8C1027.23,623.49 1029.07,625.6 1030.9,626.71C1032.73,627.82 1034.57,627.97 1036.4,628.47C1038.23,628.97 1040.07,629.43 1041.9,629.7C1043.73,629.96 1045.57,629.99 1047.4,630.05C1049.23,630.11 1051.07,630.05 1052.9,630.05C1054.73,630.05 1056.57,630.05 1058.4,630.05C1060.23,630.05 1062.07,630.05 1063.9,630.05C1065.73,630.05 1067.57,630.05 1069.4,630.05C1071.23,630.05 1073.07,630.05 1074.9,630.05C1076.73,630.05 1078.57,630.14 1080.4,630.05C1082.23,629.96 1084.07,629.9 1085.9,629.52C1087.73,629.14 1089.57,627.77 1091.4,627.77C1093.23,627.77 1095.07,629.23 1096.9,629.52C1098.73,629.81 1100.57,629.67 1102.4,629.52C1104.23,629.38 1106.07,629.87 1107.9,628.64C1109.73,627.41 1111.57,622.73 1113.4,622.15C1115.23,621.56 1117.07,624.11 1118.9,625.13C1120.73,626.16 1122.57,627.56 1124.4,628.29C1126.23,629.02 1128.07,629.26 1129.9,629.52C1131.73,629.79 1133.57,630.02 1135.4,629.87C1137.23,629.73 1139.07,629.08 1140.9,628.64C1142.73,628.21 1144.57,627.09 1146.4,627.24C1148.23,627.39 1150.07,629.08 1151.9,629.52C1153.73,629.96 1155.57,629.87 1157.4,629.87C1159.23,629.87 1161.07,630.02 1162.9,629.52C1164.73,629.02 1166.57,627.33 1168.4,626.89" fill="none" stroke="#BF6BFF" stroke-width="2" stroke-linejoin="round" stroke-linecap="round"/>
<g fill="#BF6BFF"><circle cx="794.4" cy="629.52" r="2.45"/><circle cx="799.9" cy="629.52" r="2.45"/><circle cx="805.4" cy="629.52" r="2.45"/><circle cx="810.9" cy="629.52" r="2.45"/><circle cx="816.4" cy="628.64" r="2.45"/><circle cx="821.9" cy="625.13" r="2.45"/><circle cx="827.4" cy="617.76" r="2.45"/><circle cx="832.9" cy="628.64" r="2.45"/><circle cx="838.4" cy="628.64" r="2.45"/><circle cx="843.9" cy="620.74" r="2.45"/><circle cx="849.4" cy="629.52" r="2.45"/><circle cx="854.9" cy="630.05" r="2.45"/><circle cx="860.4" cy="630.05" r="2.45"/><circle cx="865.9" cy="630.05" r="2.45"/><circle cx="871.4" cy="630.05" r="2.45"/><circle cx="876.9" cy="630.05" r="2.45"/><circle cx="882.4" cy="630.05" r="2.45"/><circle cx="887.9" cy="630.05" r="2.45"/><circle cx="893.4" cy="628.29" r="2.45"/><circle cx="898.9" cy="629.52" r="2.45"/><circle cx="904.4" cy="629.7" r="2.45"/><circle cx="909.9" cy="630.05" r="2.45"/><circle cx="915.4" cy="626.19" r="2.45"/><circle cx="920.9" cy="611.79" r="2.45"/><circle cx="926.4" cy="626.19" r="2.45"/><circle cx="931.9" cy="629.7" r="2.45"/><circle cx="937.4" cy="629.35" r="2.45"/><circle cx="942.9" cy="627.94" r="2.45"/><circle cx="948.4" cy="619.69" r="2.45"/><circle cx="953.9" cy="609.33" r="2.45"/><circle cx="959.4" cy="601.78" r="2.45"/><circle cx="964.9" cy="601.78" r="2.45"/><circle cx="970.4" cy="611.79" r="2.45"/><circle cx="975.9" cy="603.01" r="2.45"/><circle cx="981.4" cy="585.1" r="2.45"/><circle cx="986.9" cy="591.59" r="2.45"/><circle cx="992.4" cy="599.49" r="2.45"/><circle cx="997.9" cy="600.55" r="2.45"/><circle cx="1003.4" cy="599.85" r="2.45"/><circle cx="1008.9" cy="590.19" r="2.45"/><circle cx="1014.4" cy="604.24" r="2.45"/><circle cx="1019.9" cy="616.53" r="2.45"/><circle cx="1025.4" cy="621.8" r="2.45"/><circle cx="1030.9" cy="626.71" r="2.45"/><circle cx="1036.4" cy="628.47" r="2.45"/><circle cx="1041.9" cy="629.7" r="2.45"/><circle cx="1047.4" cy="630.05" r="2.45"/><circle cx="1052.9" cy="630.05" r="2.45"/><circle cx="1058.4" cy="630.05" r="2.45"/><circle cx="1063.9" cy="630.05" r="2.45"/><circle cx="1069.4" cy="630.05" r="2.45"/><circle cx="1074.9" cy="630.05" r="2.45"/><circle cx="1080.4" cy="630.05" r="2.45"/><circle cx="1085.9" cy="629.52" r="2.45"/><circle cx="1091.4" cy="627.77" r="2.45"/><circle cx="1096.9" cy="629.52" r="2.45"/><circle cx="1102.4" cy="629.52" r="2.45"/><circle cx="1107.9" cy="628.64" r="2.45"/><circle cx="1113.4" cy="622.15" r="2.45"/><circle cx="1118.9" cy="625.13" r="2.45"/><circle cx="1124.4" cy="628.29" r="2.45"/><circle cx="1129.9" cy="629.52" r="2.45"/><circle cx="1135.4" cy="629.87" r="2.45"/><circle cx="1140.9" cy="628.64" r="2.45"/><circle cx="1146.4" cy="627.24" r="2.45"/><circle cx="1151.9" cy="629.52" r="2.45"/><circle cx="1157.4" cy="629.87" r="2.45"/><circle cx="1162.9" cy="629.52" r="2.45"/><circle cx="1168.4" cy="626.89" r="2.45"/></g>
<path d="M794.4,625.66C796.23,625.95 798.07,627.06 799.9,627.41C801.73,627.77 803.57,628.03 805.4,627.77C807.23,627.5 809.07,626.54 810.9,625.83C812.73,625.13 814.57,624.75 816.4,623.55C818.23,622.35 820.07,618.08 821.9,618.63C823.73,619.19 825.57,626.68 827.4,626.89C829.23,627.09 831.07,622.44 832.9,619.86C834.73,617.29 836.57,611 838.4,611.44C840.23,611.87 842.07,619.63 843.9,622.5C845.73,625.37 847.57,627.47 849.4,628.64C851.23,629.81 853.07,629.38 854.9,629.52C856.73,629.67 858.57,629.67 860.4,629.52C862.23,629.38 864.07,629.67 865.9,628.64C867.73,627.62 869.57,623.38 871.4,623.38C873.23,623.38 875.07,627.62 876.9,628.64C878.73,629.67 880.57,629.38 882.4,629.52C884.23,629.67 886.07,630.31 887.9,629.52C889.73,628.73 891.57,625.31 893.4,624.78C895.23,624.25 897.07,626.89 898.9,626.36C900.73,625.83 902.57,621.71 904.4,621.62C906.23,621.53 908.07,625.25 909.9,625.83C911.73,626.42 913.57,626.83 915.4,625.13C917.23,623.43 919.07,615.97 920.9,615.65C922.73,615.33 924.57,623.23 926.4,623.2C928.23,623.17 930.07,616.59 931.9,615.47C933.73,614.36 935.57,615.18 937.4,616.53C939.23,617.87 941.07,622.76 942.9,623.55C944.73,624.34 946.57,623.23 948.4,621.27C950.23,619.31 952.07,613.75 953.9,611.79C955.73,609.83 957.57,610.47 959.4,609.5C961.23,608.54 963.07,604.12 964.9,605.99C966.73,607.86 968.57,619.04 970.4,620.74C972.23,622.44 974.07,618.25 975.9,616.18C977.73,614.1 979.57,610.97 981.4,608.27C983.23,605.58 985.07,601.1 986.9,600.02C988.73,598.94 990.57,600.69 992.4,601.78C994.23,602.86 996.07,604.56 997.9,606.52C999.73,608.48 1001.57,611.87 1003.4,613.54C1005.23,615.21 1007.07,616.18 1008.9,616.53C1010.73,616.88 1012.57,615.94 1014.4,615.65C1016.23,615.36 1018.07,613.95 1019.9,614.77C1021.73,615.59 1023.57,619.16 1025.4,620.57C1027.23,621.97 1029.07,622.41 1030.9,623.2C1032.73,623.99 1034.57,625.4 1036.4,625.31C1038.23,625.22 1040.07,623.29 1041.9,622.67C1043.73,622.06 1045.57,620.92 1047.4,621.62C1049.23,622.32 1051.07,625.72 1052.9,626.89C1054.73,628.06 1056.57,628.21 1058.4,628.64C1060.23,629.08 1062.07,629.38 1063.9,629.52C1065.73,629.67 1067.57,629.52 1069.4,629.52C1071.23,629.52 1073.07,630.02 1074.9,629.52C1076.73,629.02 1078.57,626.83 1080.4,626.54C1082.23,626.24 1084.07,627.47 1085.9,627.77C1087.73,628.06 1089.57,628 1091.4,628.29C1093.23,628.59 1095.07,629.32 1096.9,629.52C1098.73,629.73 1100.57,629.76 1102.4,629.52C1104.23,629.29 1106.07,628.12 1107.9,628.12C1109.73,628.12 1111.57,629.99 1113.4,629.52C1115.23,629.05 1117.07,626.51 1118.9,625.31C1120.73,624.11 1122.57,622.23 1124.4,622.32C1126.23,622.41 1128.07,624.72 1129.9,625.83C1131.73,626.95 1133.57,628.94 1135.4,629C1137.23,629.05 1139.07,626.77 1140.9,626.19C1142.73,625.6 1144.57,625.57 1146.4,625.48C1148.23,625.4 1150.07,624.99 1151.9,625.66C1153.73,626.33 1155.57,628.88 1157.4,629.52C1159.23,630.17 1161.07,629.52 1162.9,629.52C1164.73,629.52 1166.57,629.52 1168.4,629.52" fill="none" stroke="#FF5C93" stroke-width="2" stroke-linejoin="round" stroke-linecap="round"/>
<g fill="#FF5C93"><circle cx="794.4" cy="625.66" r="2.45"/><circle cx="799.9" cy="627.41" r="2.45"/><circle cx="805.4" cy="627.77" r="2.45"/><circle cx="810.9" cy="625.83" r="2.45"/><circle cx="816.4" cy="623.55" r="2.45"/><circle cx="821.9" cy="618.63" r="2.45"/><circle cx="827.4" cy="626.89" r="2.45"/><circle cx="832.9" cy="619.86" r="2.45"/><circle cx="838.4" cy="611.44" r="2.45"/><circle cx="843.9" cy="622.5" r="2.45"/><circle cx="849.4" cy="628.64" r="2.45"/><circle cx="854.9" cy="629.52" r="2.45"/><circle cx="860.4" cy="629.52" r="2.45"/><circle cx="865.9" cy="628.64" r="2.45"/><circle cx="871.4" cy="623.38" r="2.45"/><circle cx="876.9" cy="628.64" r="2.45"/><circle cx="882.4" cy="629.52" r="2.45"/><circle cx="887.9" cy="629.52" r="2.45"/><circle cx="893.4" cy="624.78" r="2.45"/><circle cx="898.9" cy="626.36" r="2.45"/><circle cx="904.4" cy="621.62" r="2.45"/><circle cx="909.9" cy="625.83" r="2.45"/><circle cx="915.4" cy="625.13" r="2.45"/><circle cx="920.9" cy="615.65" r="2.45"/><circle cx="926.4" cy="623.2" r="2.45"/><circle cx="931.9" cy="615.47" r="2.45"/><circle cx="937.4" cy="616.53" r="2.45"/><circle cx="942.9" cy="623.55" r="2.45"/><circle cx="948.4" cy="621.27" r="2.45"/><circle cx="953.9" cy="611.79" r="2.45"/><circle cx="959.4" cy="609.5" r="2.45"/><circle cx="964.9" cy="605.99" r="2.45"/><circle cx="970.4" cy="620.74" r="2.45"/><circle cx="975.9" cy="616.18" r="2.45"/><circle cx="981.4" cy="608.27" r="2.45"/><circle cx="986.9" cy="600.02" r="2.45"/><circle cx="992.4" cy="601.78" r="2.45"/><circle cx="997.9" cy="606.52" r="2.45"/><circle cx="1003.4" cy="613.54" r="2.45"/><circle cx="1008.9" cy="616.53" r="2.45"/><circle cx="1014.4" cy="615.65" r="2.45"/><circle cx="1019.9" cy="614.77" r="2.45"/><circle cx="1025.4" cy="620.57" r="2.45"/><circle cx="1030.9" cy="623.2" r="2.45"/><circle cx="1036.4" cy="625.31" r="2.45"/><circle cx="1041.9" cy="622.67" r="2.45"/><circle cx="1047.4" cy="621.62" r="2.45"/><circle cx="1052.9" cy="626.89" r="2.45"/><circle cx="1058.4" cy="628.64" r="2.45"/><circle cx="1063.9" cy="629.52" r="2.45"/><circle cx="1069.4" cy="629.52" r="2.45"/><circle cx="1074.9" cy="629.52" r="2.45"/><circle cx="1080.4" cy="626.54" r="2.45"/><circle cx="1085.9" cy="627.77" r="2.45"/><circle cx="1091.4" cy="628.29" r="2.45"/><circle cx="1096.9" cy="629.52" r="2.45"/><circle cx="1102.4" cy="629.52" r="2.45"/><circle cx="1107.9" cy="628.12" r="2.45"/><circle cx="1113.4" cy="629.52" r="2.45"/><circle cx="1118.9" cy="625.31" r="2.45"/><circle cx="1124.4" cy="622.32" r="2.45"/><circle cx="1129.9" cy="625.83" r="2.45"/><circle cx="1135.4" cy="629" r="2.45"/><circle cx="1140.9" cy="626.19" r="2.45"/><circle cx="1146.4" cy="625.48" r="2.45"/><circle cx="1151.9" cy="625.66" r="2.45"/><circle cx="1157.4" cy="629.52" r="2.45"/><circle cx="1162.9" cy="629.52" r="2.45"/><circle cx="1168.4" cy="629.52" r="2.45"/></g>
<path d="M794.4,624.61C796.23,622.64 798.07,612.84 799.9,612.84C801.73,612.84 803.57,621.82 805.4,624.61C807.23,627.39 809.07,628.85 810.9,629.52C812.73,630.2 814.57,629.73 816.4,628.64C818.23,627.56 820.07,625.37 821.9,623.02C823.73,620.68 825.57,616.21 827.4,614.6C829.23,612.99 831.07,614.33 832.9,613.37C834.73,612.4 836.57,609.65 838.4,608.8C840.23,607.95 842.07,605.11 843.9,608.27C845.73,611.44 847.57,624.17 849.4,627.77C851.23,631.37 853.07,629.49 854.9,629.87C856.73,630.25 858.57,630.55 860.4,630.05C862.23,629.55 864.07,627.12 865.9,626.89C867.73,626.65 869.57,628.7 871.4,628.64C873.23,628.59 875.07,627.27 876.9,626.54C878.73,625.81 880.57,626.83 882.4,624.25C884.23,621.68 886.07,612.55 887.9,611.08C889.73,609.62 891.57,615.71 893.4,615.47C895.23,615.24 897.07,608.95 898.9,609.68C900.73,610.41 902.57,616.82 904.4,619.86C906.23,622.91 908.07,627.8 909.9,627.94C911.73,628.09 913.57,625.16 915.4,620.74C917.23,616.32 919.07,606.43 920.9,601.43C922.73,596.42 924.57,600.02 926.4,590.71C928.23,581.41 930.07,557.35 931.9,545.59C933.73,533.82 935.57,519.45 937.4,520.12C939.23,520.8 941.07,550.53 942.9,549.62C944.73,548.72 946.57,535.99 948.4,514.68C950.23,493.37 952.07,447.51 953.9,421.79C955.73,396.06 957.57,369.37 959.4,360.33C961.23,351.28 963.07,362 964.9,367.53C966.73,373.06 968.57,401.59 970.4,393.52C972.23,385.44 974.07,328.69 975.9,319.06C977.73,309.43 979.57,330.68 981.4,335.74C983.23,340.81 985.07,343.15 986.9,349.44C988.73,355.73 990.57,364.22 992.4,373.5C994.23,382.77 996.07,394.36 997.9,405.11C999.73,415.85 1001.57,426.5 1003.4,437.94C1005.23,449.39 1007.07,461.74 1008.9,473.76C1010.73,485.79 1012.57,495.28 1014.4,510.11C1016.23,524.95 1018.07,548.19 1019.9,562.79C1021.73,577.4 1023.57,589.98 1025.4,597.74C1027.23,605.49 1029.07,605.35 1030.9,609.33C1032.73,613.31 1034.57,618.66 1036.4,621.62C1038.23,624.58 1040.07,626.07 1041.9,627.06C1043.73,628.06 1045.57,627.62 1047.4,627.59C1049.23,627.56 1051.07,626.68 1052.9,626.89C1054.73,627.09 1056.57,628.38 1058.4,628.82C1060.23,629.26 1062.07,629.4 1063.9,629.52C1065.73,629.64 1067.57,629.49 1069.4,629.52C1071.23,629.55 1073.07,629.64 1074.9,629.7C1076.73,629.76 1078.57,629.84 1080.4,629.87C1082.23,629.9 1084.07,629.93 1085.9,629.87C1087.73,629.81 1089.57,630.2 1091.4,629.52C1093.23,628.85 1095.07,626.21 1096.9,625.83C1098.73,625.45 1100.57,627.88 1102.4,627.24C1104.23,626.6 1106.07,621.74 1107.9,621.97C1109.73,622.21 1111.57,627.68 1113.4,628.64C1115.23,629.61 1117.07,628.26 1118.9,627.77C1120.73,627.27 1122.57,625.72 1124.4,625.66C1126.23,625.6 1128.07,626.89 1129.9,627.41C1131.73,627.94 1133.57,629.67 1135.4,628.82C1137.23,627.97 1139.07,623.41 1140.9,622.32C1142.73,621.24 1144.57,621.65 1146.4,622.32C1148.23,623 1150.07,625.51 1151.9,626.36C1153.73,627.21 1155.57,627.03 1157.4,627.41C1159.23,627.8 1161.07,629.17 1162.9,628.64C1164.73,628.12 1166.57,624.99 1168.4,624.25" fill="none" stroke="#FAA61A" stroke-width="2" stroke-linejoin="round" stroke-linecap="round"/>
<g fill="#FAA61A"><circle cx="794.4" cy="624.61" r="2.45"/><circle cx="799.9" cy="612.84" r="2.45"/><circle cx="805.4" cy="624.61" r="2.45"/><circle cx="810.9" cy="629.52" r="2.45"/><circle cx="816.4" cy="628.64" r="2.45"/><circle cx="821.9" cy="623.02" r="2.45"/><circle cx="827.4" cy="614.6" r="2.45"/><circle cx="832.9" cy="613.37" r="2.45"/><circle cx="838.4" cy="608.8" r="2.45"/><circle cx="843.9" cy="608.27" r="2.45"/><circle cx="849.4" cy="627.77" r="2.45"/><circle cx="854.9" cy="629.87" r="2.45"/><circle cx="860.4" cy="630.05" r="2.45"/><circle cx="865.9" cy="626.89" r="2.45"/><circle cx="871.4" cy="628.64" r="2.45"/><circle cx="876.9" cy="626.54" r="2.45"/><circle cx="882.4" cy="624.25" r="2.45"/><circle cx="887.9" cy="611.08" r="2.45"/><circle cx="893.4" cy="615.47" r="2.45"/><circle cx="898.9" cy="609.68" r="2.45"/><circle cx="904.4" cy="619.86" r="2.45"/><circle cx="909.9" cy="627.94" r="2.45"/><circle cx="915.4" cy="620.74" r="2.45"/><circle cx="920.9" cy="601.43" r="2.45"/><circle cx="926.4" cy="590.71" r="2.45"/><circle cx="931.9" cy="545.59" r="2.45"/><circle cx="937.4" cy="520.12" r="2.45"/><circle cx="942.9" cy="549.62" r="2.45"/><circle cx="948.4" cy="514.68" r="2.45"/><circle cx="953.9" cy="421.79" r="2.45"/><circle cx="959.4" cy="360.33" r="2.45"/><circle cx="964.9" cy="367.53" r="2.45"/><circle cx="970.4" cy="393.52" r="2.45"/><circle cx="975.9" cy="319.06" r="2.45"/><circle cx="981.4" cy="335.74" r="2.45"/><circle cx="986.9" cy="349.44" r="2.45"/><circle cx="992.4" cy="373.5" r="2.45"/><circle cx="997.9" cy="405.11" r="2.45"/><circle cx="1003.4" cy="437.94" r="2.45"/><circle cx="1008.9" cy="473.76" r="2.45"/><circle cx="1014.4" cy="510.11" r="2.45"/><circle cx="1019.9" cy="562.79" r="2.45"/><circle cx="1025.4" cy="597.74" r="2.45"/><circle cx="1030.9" cy="609.33" r="2.45"/><circle cx="1036.4" cy="621.62" r="2.45"/><circle cx="1041.9" cy="627.06" r="2.45"/><circle cx="1047.4" cy="627.59" r="2.45"/><circle cx="1052.9" cy="626.89" r="2.45"/><circle cx="1058.4" cy="628.82" r="2.45"/><circle cx="1063.9" cy="629.52" r="2.45"/><circle cx="1069.4" cy="629.52" r="2.45"/><circle cx="1074.9" cy="629.7" r="2.45"/><circle cx="1080.4" cy="629.87" r="2.45"/><circle cx="1085.9" cy="629.87" r="2.45"/><circle cx="1091.4" cy="629.52" r="2.45"/><circle cx="1096.9" cy="625.83" r="2.45"/><circle cx="1102.4" cy="627.24" r="2.45"/><circle cx="1107.9" cy="621.97" r="2.45"/><circle cx="1113.4" cy="628.64" r="2.45"/><circle cx="1118.9" cy="627.77" r="2.45"/><circle cx="1124.4" cy="625.66" r="2.45"/><circle cx="1129.9" cy="627.41" r="2.45"/><circle cx="1135.4" cy="628.82" r="2.45"/><circle cx="1140.9" cy="622.32" r="2.45"/><circle cx="1146.4" cy="622.32" r="2.45"/><circle cx="1151.9" cy="626.36" r="2.45"/><circle cx="1157.4" cy="627.41" r="2.45"/><circle cx="1162.9" cy="628.64" r="2.45"/><circle cx="1168.4" cy="624.25" r="2.45"/></g>
<path d="M794.4,629.52C796.23,629.52 798.07,629.58 799.9,629.52C801.73,629.46 803.57,629.32 805.4,629.17C807.23,629.02 809.07,628.88 810.9,628.64C812.73,628.41 814.57,627.91 816.4,627.77C818.23,627.62 820.07,628.38 821.9,627.77C823.73,627.15 825.57,624.46 827.4,624.08C829.23,623.7 831.07,624.93 832.9,625.48C834.73,626.04 836.57,627.03 838.4,627.41C840.23,627.8 842.07,628.12 843.9,627.77C845.73,627.41 847.57,625.57 849.4,625.31C851.23,625.04 853.07,625.63 854.9,626.19C856.73,626.74 858.57,628.29 860.4,628.64C862.23,629 864.07,628.79 865.9,628.29C867.73,627.8 869.57,625.72 871.4,625.66C873.23,625.6 875.07,627.5 876.9,627.94C878.73,628.38 880.57,628.47 882.4,628.29C884.23,628.12 886.07,628.41 887.9,626.89C889.73,625.37 891.57,623.11 893.4,619.16C895.23,615.21 897.07,605.08 898.9,603.18C900.73,601.28 902.57,606.49 904.4,607.75C906.23,609.01 908.07,611.35 909.9,610.73C911.73,610.12 913.57,609.42 915.4,604.06C917.23,598.7 919.07,580.32 920.9,578.6C922.73,576.87 924.57,589.43 926.4,593.7C928.23,597.97 930.07,602.63 931.9,604.24C933.73,605.85 935.57,606.11 937.4,603.36C939.23,600.61 941.07,594.93 942.9,587.73C944.73,580.53 946.57,570.46 948.4,560.16C950.23,549.86 952.07,534.41 953.9,525.92C955.73,517.43 957.57,510.85 959.4,509.24C961.23,507.63 963.07,508.21 964.9,516.26C966.73,524.31 968.57,548.75 970.4,557.53C972.23,566.31 974.07,567.3 975.9,568.94C977.73,570.58 979.57,570.75 981.4,567.36C983.23,563.96 985.07,548.42 986.9,548.57C988.73,548.72 990.57,561.92 992.4,568.24C994.23,574.56 996.07,583.11 997.9,586.5C999.73,589.89 1001.57,586.68 1003.4,588.61C1005.23,590.54 1007.07,595.05 1008.9,598.09C1010.73,601.13 1012.57,605.76 1014.4,606.87C1016.23,607.98 1018.07,603.8 1019.9,604.76C1021.73,605.73 1023.57,611.29 1025.4,612.66C1027.23,614.04 1029.07,612.66 1030.9,613.02C1032.73,613.37 1034.57,614.63 1036.4,614.77C1038.23,614.92 1040.07,613.25 1041.9,613.89C1043.73,614.54 1045.57,617.17 1047.4,618.63C1049.23,620.1 1051.07,621.56 1052.9,622.67C1054.73,623.79 1056.57,624.78 1058.4,625.31C1060.23,625.83 1062.07,625.75 1063.9,625.83C1065.73,625.92 1067.57,625.48 1069.4,625.83C1071.23,626.19 1073.07,627.5 1074.9,627.94C1076.73,628.38 1078.57,628.35 1080.4,628.47C1082.23,628.59 1084.07,628.59 1085.9,628.64C1087.73,628.7 1089.57,628.79 1091.4,628.82C1093.23,628.85 1095.07,628.85 1096.9,628.82C1098.73,628.79 1100.57,629.35 1102.4,628.64C1104.23,627.94 1106.07,625.1 1107.9,624.61C1109.73,624.11 1111.57,625.04 1113.4,625.66C1115.23,626.27 1117.07,627.65 1118.9,628.29C1120.73,628.94 1122.57,629.23 1124.4,629.52C1126.23,629.81 1128.07,629.96 1129.9,630.05C1131.73,630.14 1133.57,630.05 1135.4,630.05C1137.23,630.05 1139.07,630.05 1140.9,630.05C1142.73,630.05 1144.57,630.05 1146.4,630.05C1148.23,630.05 1150.07,630.22 1151.9,630.05C1153.73,629.87 1155.57,629.32 1157.4,629C1159.23,628.67 1161.07,627.94 1162.9,628.12C1164.73,628.29 1166.57,629.73 1168.4,630.05" fill="none" stroke="#6FDC9B" stroke-width="2" stroke-linejoin="round" stroke-linecap="round"/>
<g fill="#6FDC9B"><circle cx="794.4" cy="629.52" r="2.45"/><circle cx="799.9" cy="629.52" r="2.45"/><circle cx="805.4" cy="629.17" r="2.45"/><circle cx="810.9" cy="628.64" r="2.45"/><circle cx="816.4" cy="627.77" r="2.45"/><circle cx="821.9" cy="627.77" r="2.45"/><circle cx="827.4" cy="624.08" r="2.45"/><circle cx="832.9" cy="625.48" r="2.45"/><circle cx="838.4" cy="627.41" r="2.45"/><circle cx="843.9" cy="627.77" r="2.45"/><circle cx="849.4" cy="625.31" r="2.45"/><circle cx="854.9" cy="626.19" r="2.45"/><circle cx="860.4" cy="628.64" r="2.45"/><circle cx="865.9" cy="628.29" r="2.45"/><circle cx="871.4" cy="625.66" r="2.45"/><circle cx="876.9" cy="627.94" r="2.45"/><circle cx="882.4" cy="628.29" r="2.45"/><circle cx="887.9" cy="626.89" r="2.45"/><circle cx="893.4" cy="619.16" r="2.45"/><circle cx="898.9" cy="603.18" r="2.45"/><circle cx="904.4" cy="607.75" r="2.45"/><circle cx="909.9" cy="610.73" r="2.45"/><circle cx="915.4" cy="604.06" r="2.45"/><circle cx="920.9" cy="578.6" r="2.45"/><circle cx="926.4" cy="593.7" r="2.45"/><circle cx="931.9" cy="604.24" r="2.45"/><circle cx="937.4" cy="603.36" r="2.45"/><circle cx="942.9" cy="587.73" r="2.45"/><circle cx="948.4" cy="560.16" r="2.45"/><circle cx="953.9" cy="525.92" r="2.45"/><circle cx="959.4" cy="509.24" r="2.45"/><circle cx="964.9" cy="516.26" r="2.45"/><circle cx="970.4" cy="557.53" r="2.45"/><circle cx="975.9" cy="568.94" r="2.45"/><circle cx="981.4" cy="567.36" r="2.45"/><circle cx="986.9" cy="548.57" r="2.45"/><circle cx="992.4" cy="568.24" r="2.45"/><circle cx="997.9" cy="586.5" r="2.45"/><circle cx="1003.4" cy="588.61" r="2.45"/><circle cx="1008.9" cy="598.09" r="2.45"/><circle cx="1014.4" cy="606.87" r="2.45"/><circle cx="1019.9" cy="604.76" r="2.45"/><circle cx="1025.4" cy="612.66" r="2.45"/><circle cx="1030.9" cy="613.02" r="2.45"/><circle cx="1036.4" cy="614.77" r="2.45"/><circle cx="1041.9" cy="613.89" r="2.45"/><circle cx="1047.4" cy="618.63" r="2.45"/><circle cx="1052.9" cy="622.67" r="2.45"/><circle cx="1058.4" cy="625.31" r="2.45"/><circle cx="1063.9" cy="625.83" r="2.45"/><circle cx="1069.4" cy="625.83" r="2.45"/><circle cx="1074.9" cy="627.94" r="2.45"/><circle cx="1080.4" cy="628.47" r="2.45"/><circle cx="1085.9" cy="628.64" r="2.45"/><circle cx="1091.4" cy="628.82" r="2.45"/><circle cx="1096.9" cy="628.82" r="2.45"/><circle cx="1102.4" cy="628.64" r="2.45"/><circle cx="1107.9" cy="624.61" r="2.45"/><circle cx="1113.4" cy="625.66" r="2.45"/><circle cx="1118.9" cy="628.29" r="2.45"/><circle cx="1124.4" cy="629.52" r="2.45"/><circle cx="1129.9" cy="630.05" r="2.45"/><circle cx="1135.4" cy="630.05" r="2.45"/><circle cx="1140.9" cy="630.05" r="2.45"/><circle cx="1146.4" cy="630.05" r="2.45"/><circle cx="1151.9" cy="630.05" r="2.45"/><circle cx="1157.4" cy="629" r="2.45"/><circle cx="1162.9" cy="628.12" r="2.45"/><circle cx="1168.4" cy="630.05" r="2.45"/></g>
</g>
<line x1="775.3" x2="1187.3" y1="630.4" y2="630.4" class="a"/>
<line x1="794.4" x2="794.4" y1="631" y2="635" class="t"/>
<text x="794.05" y="649.05" class="xt" font-size="6.2" transform="rotate(-45 794.05 646.85)">Jul 20</text>
<line x1="805.4" x2="805.4" y1="631" y2="635" class="t"/>
<text x="805.05" y="649.05" class="xt" font-size="6.2" transform="rotate(-45 805.05 646.85)">Aug 03</text>
<line x1="816.4" x2="816.4" y1="631" y2="635" class="t"/>
<text x="816.05" y="649.05" class="xt" font-size="6.2" transform="rotate(-45 816.05 646.85)">Aug 17</text>
<line x1="827.4" x2="827.4" y1="631" y2="635" class="t"/>
<text x="827.05" y="649.05" class="xt" font-size="6.2" transform="rotate(-45 827.05 646.85)">Aug 31</text>
<line x1="838.4" x2="838.4" y1="631" y2="635" class="t"/>
<text x="838.05" y="649.05" class="xt" font-size="6.2" transform="rotate(-45 838.05 646.85)">Sep 14</text>
<line x1="849.4" x2="849.4" y1="631" y2="635" class="t"/>
<text x="849.05" y="649.05" class="xt" font-size="6.2" transform="rotate(-45 849.05 646.85)">Sep 28</text>
<line x1="860.4" x2="860.4" y1="631" y2="635" class="t"/>
<text x="860.05" y="649.05" class="xt" font-size="6.2" transform="rotate(-45 860.05 646.85)">Oct 12</text>
<line x1="871.4" x2="871.4" y1="631" y2="635" class="t"/>
<text x="871.05" y="649.05" class="xt" font-size="6.2" transform="rotate(-45 871.05 646.85)">Oct 26</text>
<line x1="882.4" x2="882.4" y1="631" y2="635" class="t"/>
<text x="882.05" y="649.05" class="xt" font-size="6.2" transform="rotate(-45 882.05 646.85)">Nov 09</text>
<line x1="893.4" x2="893.4" y1="631" y2="635" class="t"/>
<text x="893.05" y="649.05" class="xt" font-size="6.2" transform="rotate(-45 893.05 646.85)">Nov 23</text>
<line x1="904.4" x2="904.4" y1="631" y2="635" class="t"/>
<text x="904.05" y="649.05" class="xt" font-size="6.2" transform="rotate(-45 904.05 646.85)">Dec 07</text>
<line x1="915.4" x2="915.4" y1="631" y2="635" class="t"/>
<text x="915.05" y="649.05" class="xt" font-size="6.2" transform="rotate(-45 915.05 646.85)">Dec 21</text>
<line x1="926.4" x2="926.4" y1="631" y2="635" class="t"/>
<text x="926.05" y="649.05" class="xt" font-size="6.2" transform="rotate(-45 926.05 646.85)">Jan 04</text>
<line x1="937.4" x2="937.4" y1="631" y2="635" class="t"/>
<text x="937.05" y="649.05" class="xt" font-size="6.2" transform="rotate(-45 937.05 646.85)">Jan 18</text>
<line x1="948.4" x2="948.4" y1="631" y2="635" class="t"/>
<text x="948.05" y="649.05" class="xt" font-size="6.2" transform="rotate(-45 948.05 646.85)">Feb 01</text>
<line x1="959.4" x2="959.4" y1="631" y2="635" class="t"/>
<text x="959.05" y="649.05" class="xt" font-size="6.2" transform="rotate(-45 959.05 646.85)">Feb 15</text>
<line x1="970.4" x2="970.4" y1="631" y2="635" class="t"/>
<text x="970.05" y="649.05" class="xt" font-size="6.2" transform="rotate(-45 970.05 646.85)">Mar 01</text>
<line x1="981.4" x2="981.4" y1="631" y2="635" class="t"/>
<text x="981.05" y="649.05" class="xt" font-size="6.2" transform="rotate(-45 981.05 646.85)">Mar 15</text>
<line x1="992.4" x2="992.4" y1="631" y2="635" class="t"/>
<text x="992.05" y="649.05" class="xt" font-size="6.2" transform="rotate(-45 992.05 646.85)">Mar 29</text>
<line x1="1003.4" x2="1003.4" y1="631" y2="635" class="t"/>
<text x="1003.05" y="649.05" class="xt" font-size="6.2" transform="rotate(-45 1003.05 646.85)">Apr 12</text>
<line x1="1014.4" x2="1014.4" y1="631" y2="635" class="t"/>
<text x="1014.05" y="649.05" class="xt" font-size="6.2" transform="rotate(-45 1014.05 646.85)">Apr 26</text>
<line x1="1025.4" x2="1025.4" y1="631" y2="635" class="t"/>
<text x="1025.05" y="649.05" class="xt" font-size="6.2" transform="rotate(-45 1025.05 646.85)">May 10</text>
<line x1="1036.4" x2="1036.4" y1="631" y2="635" class="t"/>
<text x="1036.05" y="649.05" class="xt" font-size="6.2" transform="rotate(-45 1036.05 646.85)">May 24</text>
<line x1="1047.4" x2="1047.4" y1="631" y2="635" class="t"/>
<text x="1047.05" y="649.05" class="xt" font-size="6.2" transform="rotate(-45 1047.05 646.85)">Jun 07</text>
<line x1="1058.4" x2="1058.4" y1="631" y2="635" class="t"/>
<text x="1058.05" y="649.05" class="xt" font-size="6.2" transform="rotate(-45 1058.05 646.85)">Jun 21</text>
<line x1="1069.4" x2="1069.4" y1="631" y2="635" class="t"/>
<text x="1069.05" y="649.05" class="xt" font-size="6.2" transform="rotate(-45 1069.05 646.85)">Jul 05</text>
<line x1="1080.4" x2="1080.4" y1="631" y2="635" class="t"/>
<text x="1080.05" y="649.05" class="xt" font-size="6.2" transform="rotate(-45 1080.05 646.85)">Jul 19</text>
<line x1="1091.4" x2="1091.4" y1="631" y2="635" class="t"/>
<text x="1091.05" y="649.05" class="xt" font-size="6.2" transform="rotate(-45 1091.05 646.85)">Aug 02</text>
<line x1="1102.4" x2="1102.4" y1="631" y2="635" class="t"/>
<text x="1102.05" y="649.05" class="xt" font-size="6.2" transform="rotate(-45 1102.05 646.85)">Aug 16</text>
<line x1="1113.4" x2="1113.4" y1="631" y2="635" class="t"/>
<text x="1113.05" y="649.05" class="xt" font-size="6.2" transform="rotate(-45 1113.05 646.85)">Aug 30</text>
<line x1="1124.4" x2="1124.4" y1="631" y2="635" class="t"/>
<text x="1124.05" y="649.05" class="xt" font-size="6.2" transform="rotate(-45 1124.05 646.85)">Sep 13</text>
<line x1="1135.4" x2="1135.4" y1="631" y2="635" class="t"/>
<text x="1135.05" y="649.05" class="xt" font-size="6.2" transform="rotate(-45 1135.05 646.85)">Sep 27</text>
<line x1="1146.4" x2="1146.4" y1="631" y2="635" class="t"/>
<text x="1146.05" y="649.05" class="xt" font-size="6.2" transform="rotate(-45 1146.05 646.85)">Oct 11</text>
<line x1="1157.4" x2="1157.4" y1="631" y2="635" class="t"/>
<text x="1157.05" y="649.05" class="xt" font-size="6.2" transform="rotate(-45 1157.05 646.85)">Oct 25</text>
<line x1="1168.4" x2="1168.4" y1="631" y2="635" class="t"/>
<text x="1168.05" y="649.05" class="xt" font-size="6.2" transform="rotate(-45 1168.05 646.85)">Nov 08</text>
<text x="739.6" y="464.5" class="yl" font-size="12.4" textLength="194" lengthAdjust="spacing" transform="rotate(-90 739.6 464.5)">Effective concentration, copies/mL</text>
<rect x="1080.6" y="305.1" width="100" height="73" rx="2.5" fill="#fff" fill-opacity="0.8" stroke="#d2d2d2" stroke-width="1"/>
<line x1="1084.4" x2="1111.1" y1="314.5" y2="314.5" stroke="#BF6BFF" stroke-width="2"/>
<text transform="translate(1120.2 318.9) scale(1.06 1)" class="lt" font-size="12">Midwest</text>
<line x1="1084.4" x2="1111.1" y1="331.77" y2="331.77" stroke="#FF5C93" stroke-width="2"/>
<text transform="translate(1120.2 336.17) scale(1.06 1)" class="lt" font-size="12">South</text>
<line x1="1084.4" x2="1111.1" y1="349.04" y2="349.04" stroke="#FAA61A" stroke-width="2"/>
<text transform="translate(1120.2 353.44) scale(1.06 1)" class="lt" font-size="12">Northeast</text>
<line x1="1084.4" x2="1111.1" y1="366.31" y2="366.31" stroke="#6FDC9B" stroke-width="2"/>
<text transform="translate(1120.2 370.71) scale(1.06 1)" class="lt" font-size="12">West</text>
<text x="981.15" y="709.2" class="ct" font-size="14.6" textLength="79.8" lengthAdjust="spacingAndGlyphs">Influenza B</text>
<clipPath id="clipRSV"><rect x="190.1" y="729.1" width="411.7" height="400"/></clipPath>
<text transform="translate(185.2 1133.45) scale(1.125 1)" class="yt" font-size="11.7">0</text>
<line x1="190.1" x2="601.8" y1="1082.85" y2="1082.85" class="g"/>
<text transform="translate(185.2 1087.2) scale(1.125 1)" class="yt" font-size="11.7">5</text>
<line x1="190.1" x2="601.8" y1="1036.6" y2="1036.6" class="g"/>
<text transform="translate(185.2 1040.95) scale(1.125 1)" class="yt" font-size="11.7">10</text>
<line x1="190.1" x2="601.8" y1="990.35" y2="990.35" class="g"/>
<text transform="translate(185.2 994.7) scale(1.125 1)" class="yt" font-size="11.7">15</text>
<line x1="190.1" x2="601.8" y1="944.1" y2="944.1" class="g"/>
<text transform="translate(185.2 948.45) scale(1.125 1)" class="yt" font-size="11.7">20</text>
<line x1="190.1" x2="601.8" y1="897.85" y2="897.85" class="g"/>
<text transform="translate(185.2 902.2) scale(1.125 1)" class="yt" font-size="11.7">25</text>
<line x1="190.1" x2="601.8" y1="851.6" y2="851.6" class="g"/>
<text transform="translate(185.2 855.95) scale(1.125 1)" class="yt" font-size="11.7">30</text>
<line x1="190.1" x2="601.8" y1="805.35" y2="805.35" class="g"/>
<text transform="translate(185.2 809.7) scale(1.125 1)" class="yt" font-size="11.7">35</text>
<g clip-path="url(#clipRSV)">
<path d="M208.7,1127.99C210.53,1127.99 212.36,1127.99 214.2,1127.99C216.03,1127.99 217.86,1127.99 219.69,1127.99C221.53,1127.99 223.36,1127.99 225.19,1127.99C227.02,1127.99 228.86,1127.99 230.69,1127.99C232.52,1127.99 234.35,1127.99 236.19,1127.99C238.02,1127.99 239.85,1127.99 241.68,1127.99C243.51,1127.99 245.35,1127.99 247.18,1127.99C249.01,1127.99 250.84,1127.99 252.68,1127.99C254.51,1127.99 256.34,1127.99 258.17,1127.99C260.01,1127.99 261.84,1127.99 263.67,1127.99C265.5,1127.99 267.34,1127.99 269.17,1127.99C271,1127.99 272.83,1128.04 274.66,1127.99C276.5,1127.94 278.33,1128.08 280.16,1127.71C281.99,1127.34 283.83,1125.92 285.66,1125.77C287.49,1125.62 289.32,1127.23 291.16,1126.79C292.99,1126.34 294.82,1124.24 296.65,1123.09C298.49,1121.93 300.32,1121.62 302.15,1119.85C303.98,1118.08 305.81,1115.56 307.65,1112.45C309.48,1109.34 311.31,1105.45 313.14,1101.16C314.98,1096.88 316.81,1090 318.64,1086.73C320.47,1083.47 322.31,1083 324.14,1081.55C325.97,1080.11 327.8,1080.51 329.64,1078.04C331.47,1075.57 333.3,1074.62 335.13,1066.75C336.96,1058.89 338.8,1041.09 340.63,1030.87C342.46,1020.64 344.29,1003.13 346.13,1005.43C347.96,1007.72 349.79,1038.11 351.62,1044.65C353.46,1051.18 355.29,1047.98 357.12,1044.65C358.95,1041.32 360.79,1033.07 362.62,1024.67C364.45,1016.27 366.28,1003.48 368.11,994.23C369.95,984.98 371.78,971.56 373.61,969.17C375.44,966.78 377.28,974.21 379.11,979.9C380.94,985.59 382.77,997.13 384.61,1003.3C386.44,1009.47 388.27,1011.89 390.1,1016.9C391.94,1021.91 393.77,1027.6 395.6,1033.36C397.43,1039.13 399.26,1045.13 401.1,1051.49C402.93,1057.86 404.76,1066.03 406.59,1071.56C408.43,1077.1 410.26,1079.69 412.09,1084.7C413.92,1089.71 415.76,1097.39 417.59,1101.63C419.42,1105.87 421.25,1107.64 423.09,1110.14C424.92,1112.63 426.75,1115.07 428.58,1116.61C430.41,1118.15 432.25,1118.62 434.08,1119.39C435.91,1120.16 437.74,1120.73 439.58,1121.24C441.41,1121.75 443.24,1122.05 445.07,1122.44C446.91,1122.83 448.74,1123.29 450.57,1123.55C452.4,1123.81 454.24,1124.04 456.07,1124.01C457.9,1123.98 459.73,1123.21 461.56,1123.37C463.4,1123.52 465.23,1124.41 467.06,1124.94C468.89,1125.46 470.73,1126.12 472.56,1126.51C474.39,1126.9 476.22,1127.05 478.06,1127.25C479.89,1127.45 481.72,1127.59 483.55,1127.71C485.39,1127.84 487.22,1127.91 489.05,1127.99C490.88,1128.07 492.71,1128.14 494.55,1128.17C496.38,1128.21 498.21,1128.19 500.04,1128.17C501.88,1128.16 503.71,1128.28 505.54,1128.08C507.37,1127.88 509.21,1127.03 511.04,1126.97C512.87,1126.91 514.7,1127.65 516.54,1127.71C518.37,1127.77 520.2,1127.19 522.03,1127.34C523.86,1127.5 525.7,1128.42 527.53,1128.64C529.36,1128.85 531.19,1128.64 533.03,1128.64C534.86,1128.64 536.69,1128.64 538.52,1128.64C540.36,1128.64 542.19,1128.64 544.02,1128.64C545.85,1128.64 547.69,1128.64 549.52,1128.64C551.35,1128.64 553.18,1128.64 555.01,1128.64C556.85,1128.64 558.68,1128.64 560.51,1128.64C562.34,1128.64 564.18,1128.64 566.01,1128.64C567.84,1128.64 569.67,1128.64 571.51,1128.64C573.34,1128.64 575.17,1128.64 577,1128.64C578.84,1128.64 580.67,1128.64 582.5,1128.64" fill="none" stroke="#6FDC9B" stroke-width="2" stroke-linejoin="round" stroke-linecap="round"/>
<g fill="#6FDC9B"><circle cx="208.7" cy="1127.99" r="2.45"/><circle cx="214.2" cy="1127.99" r="2.45"/><circle cx="219.69" cy="1127.99" r="2.45"/><circle cx="225.19" cy="1127.99" r="2.45"/><circle cx="230.69" cy="1127.99" r="2.45"/><circle cx="236.19" cy="1127.99" r="2.45"/><circle cx="241.68" cy="1127.99" r="2.45"/><circle cx="247.18" cy="1127.99" r="2.45"/><circle cx="252.68" cy="1127.99" r="2.45"/><circle cx="258.17" cy="1127.99" r="2.45"/><circle cx="263.67" cy="1127.99" r="2.45"/><circle cx="269.17" cy="1127.99" r="2.45"/><circle cx="274.66" cy="1127.99" r="2.45"/><circle cx="280.16" cy="1127.71" r="2.45"/><circle cx="285.66" cy="1125.77" r="2.45"/><circle cx="291.16" cy="1126.79" r="2.45"/><circle cx="296.65" cy="1123.09" r="2.45"/><circle cx="302.15" cy="1119.85" r="2.45"/><circle cx="307.65" cy="1112.45" r="2.45"/><circle cx="313.14" cy="1101.16" r="2.45"/><circle cx="318.64" cy="1086.73" r="2.45"/><circle cx="324.14" cy="1081.55" r="2.45"/><circle cx="329.64" cy="1078.04" r="2.45"/><circle cx="335.13" cy="1066.75" r="2.45"/><circle cx="340.63" cy="1030.87" r="2.45"/><circle cx="346.13" cy="1005.43" r="2.45"/><circle cx="351.62" cy="1044.65" r="2.45"/><circle cx="357.12" cy="1044.65" r="2.45"/><circle cx="362.62" cy="1024.67" r="2.45"/><circle cx="368.11" cy="994.23" r="2.45"/><circle cx="373.61" cy="969.17" r="2.45"/><circle cx="379.11" cy="979.9" r="2.45"/><circle cx="384.61" cy="1003.3" r="2.45"/><circle cx="390.1" cy="1016.9" r="2.45"/><circle cx="395.6" cy="1033.36" r="2.45"/><circle cx="401.1" cy="1051.49" r="2.45"/><circle cx="406.59" cy="1071.56" r="2.45"/><circle cx="412.09" cy="1084.7" r="2.45"/><circle cx="417.59" cy="1101.63" r="2.45"/><circle cx="423.09" cy="1110.14" r="2.45"/><circle cx="428.58" cy="1116.61" r="2.45"/><circle cx="434.08" cy="1119.39" r="2.45"/><circle cx="439.58" cy="1121.24" r="2.45"/><circle cx="445.07" cy="1122.44" r="2.45"/><circle cx="450.57" cy="1123.55" r="2.45"/><circle cx="456.07" cy="1124.01" r="2.45"/><circle cx="461.56" cy="1123.37" r="2.45"/><circle cx="467.06" cy="1124.94" r="2.45"/><circle cx="472.56" cy="1126.51" r="2.45"/><circle cx="478.06" cy="1127.25" r="2.45"/><circle cx="483.55" cy="1127.71" r="2.45"/><circle cx="489.05" cy="1127.99" r="2.45"/><circle cx="494.55" cy="1128.17" r="2.45"/><circle cx="500.04" cy="1128.17" r="2.45"/><circle cx="505.54" cy="1128.08" r="2.45"/><circle cx="511.04" cy="1126.97" r="2.45"/><circle cx="516.54" cy="1127.71" r="2.45"/><circle cx="522.03" cy="1127.34" r="2.45"/><circle cx="527.53" cy="1128.64" r="2.45"/><circle cx="533.03" cy="1128.64" r="2.45"/><circle cx="538.52" cy="1128.64" r="2.45"/><circle cx="544.02" cy="1128.64" r="2.45"/><circle cx="549.52" cy="1128.64" r="2.45"/><circle cx="555.01" cy="1128.64" r="2.45"/><circle cx="560.51" cy="1128.64" r="2.45"/><circle cx="566.01" cy="1128.64" r="2.45"/><circle cx="571.51" cy="1128.64" r="2.45"/><circle cx="577" cy="1128.64" r="2.45"/><circle cx="582.5" cy="1128.64" r="2.45"/></g>
<path d="M208.7,1120.87C210.53,1121.31 212.36,1123.03 214.2,1123.55C216.03,1124.07 217.86,1123.78 219.69,1124.01C221.53,1124.24 223.36,1124.51 225.19,1124.94C227.02,1125.37 228.86,1126.83 230.69,1126.6C232.52,1126.37 234.35,1123.75 236.19,1123.55C238.02,1123.35 239.85,1124.94 241.68,1125.4C243.51,1125.86 245.35,1126.12 247.18,1126.32C249.01,1126.53 250.84,1126.53 252.68,1126.6C254.51,1126.68 256.34,1126.85 258.17,1126.79C260.01,1126.73 261.84,1126.56 263.67,1126.23C265.5,1125.91 267.34,1125.58 269.17,1124.84C271,1124.1 272.83,1123.09 274.66,1121.79C276.5,1120.5 278.33,1119.39 280.16,1117.07C281.99,1114.76 283.83,1108.46 285.66,1107.92C287.49,1107.38 289.32,1113.62 291.16,1113.84C292.99,1114.05 294.82,1112.06 296.65,1109.21C298.49,1106.36 300.32,1103.48 302.15,1096.72C303.98,1089.97 305.81,1073.86 307.65,1068.7C309.48,1063.53 311.31,1070.62 313.14,1065.74C314.98,1060.85 316.81,1051.54 318.64,1039.38C320.47,1027.21 322.31,997.33 324.14,992.75C325.97,988.18 327.8,1003.98 329.64,1011.9C331.47,1019.83 333.3,1040.62 335.13,1040.3C336.96,1039.98 338.8,1027.6 340.63,1009.96C342.46,992.32 344.29,935.76 346.13,934.48C347.96,933.2 349.79,982.15 351.62,1002.28C353.46,1022.42 355.29,1044.86 357.12,1055.28C358.95,1065.71 360.79,1067.25 362.62,1064.81C364.45,1062.38 366.28,1043.21 368.11,1040.67C369.95,1038.13 371.78,1044.96 373.61,1049.55C375.44,1054.14 377.28,1066.22 379.11,1068.23C380.94,1070.25 382.77,1062.7 384.61,1061.67C386.44,1060.63 388.27,1059.99 390.1,1062.04C391.94,1064.09 393.77,1070.64 395.6,1073.97C397.43,1077.3 399.26,1078.84 401.1,1082.02C402.93,1085.19 404.76,1089.45 406.59,1093.02C408.43,1096.6 410.26,1100.53 412.09,1103.48C413.92,1106.42 415.76,1108.49 417.59,1110.69C419.42,1112.9 421.25,1115.02 423.09,1116.7C424.92,1118.39 426.75,1119.87 428.58,1120.77C430.41,1121.68 432.25,1121.68 434.08,1122.16C435.91,1122.64 437.74,1123.15 439.58,1123.64C441.41,1124.14 443.24,1124.75 445.07,1125.12C446.91,1125.49 448.74,1125.66 450.57,1125.86C452.4,1126.06 454.24,1126.25 456.07,1126.32C457.9,1126.4 459.73,1126.32 461.56,1126.32C463.4,1126.32 465.23,1126.25 467.06,1126.32C468.89,1126.4 470.73,1126.63 472.56,1126.79C474.39,1126.94 476.22,1127.17 478.06,1127.25C479.89,1127.33 481.72,1127.33 483.55,1127.25C485.39,1127.17 487.22,1126.86 489.05,1126.79C490.88,1126.71 492.71,1126.86 494.55,1126.79C496.38,1126.71 498.21,1126.56 500.04,1126.32C501.88,1126.09 503.71,1125.71 505.54,1125.4C507.37,1125.09 509.21,1124.78 511.04,1124.47C512.87,1124.17 514.7,1124.06 516.54,1123.55C518.37,1123.04 520.2,1120.93 522.03,1121.42C523.86,1121.92 525.7,1125.48 527.53,1126.51C529.36,1127.54 531.19,1127.37 533.03,1127.62C534.86,1127.87 536.69,1128.01 538.52,1127.99C540.36,1127.97 542.19,1127.5 544.02,1127.53C545.85,1127.56 547.69,1128.16 549.52,1128.17C551.35,1128.19 553.18,1127.93 555.01,1127.62C556.85,1127.31 558.68,1126.79 560.51,1126.32C562.34,1125.86 564.18,1125.21 566.01,1124.84C567.84,1124.47 569.67,1124.8 571.51,1124.11C573.34,1123.41 575.17,1121.3 577,1120.68C578.84,1120.07 580.67,1120.45 582.5,1120.4" fill="none" stroke="#FF5C93" stroke-width="2" stroke-linejoin="round" stroke-linecap="round"/>
<g fill="#FF5C93"><circle cx="208.7" cy="1120.87" r="2.45"/><circle cx="214.2" cy="1123.55" r="2.45"/><circle cx="219.69" cy="1124.01" r="2.45"/><circle cx="225.19" cy="1124.94" r="2.45"/><circle cx="230.69" cy="1126.6" r="2.45"/><circle cx="236.19" cy="1123.55" r="2.45"/><circle cx="241.68" cy="1125.4" r="2.45"/><circle cx="247.18" cy="1126.32" r="2.45"/><circle cx="252.68" cy="1126.6" r="2.45"/><circle cx="258.17" cy="1126.79" r="2.45"/><circle cx="263.67" cy="1126.23" r="2.45"/><circle cx="269.17" cy="1124.84" r="2.45"/><circle cx="274.66" cy="1121.79" r="2.45"/><circle cx="280.16" cy="1117.07" r="2.45"/><circle cx="285.66" cy="1107.92" r="2.45"/><circle cx="291.16" cy="1113.84" r="2.45"/><circle cx="296.65" cy="1109.21" r="2.45"/><circle cx="302.15" cy="1096.72" r="2.45"/><circle cx="307.65" cy="1068.7" r="2.45"/><circle cx="313.14" cy="1065.74" r="2.45"/><circle cx="318.64" cy="1039.38" r="2.45"/><circle cx="324.14" cy="992.75" r="2.45"/><circle cx="329.64" cy="1011.9" r="2.45"/><circle cx="335.13" cy="1040.3" r="2.45"/><circle cx="340.63" cy="1009.96" r="2.45"/><circle cx="346.13" cy="934.48" r="2.45"/><circle cx="351.62" cy="1002.28" r="2.45"/><circle cx="357.12" cy="1055.28" r="2.45"/><circle cx="362.62" cy="1064.81" r="2.45"/><circle cx="368.11" cy="1040.67" r="2.45"/><circle cx="373.61" cy="1049.55" r="2.45"/><circle cx="379.11" cy="1068.23" r="2.45"/><circle cx="384.61" cy="1061.67" r="2.45"/><circle cx="390.1" cy="1062.04" r="2.45"/><circle cx="395.6" cy="1073.97" r="2.45"/><circle cx="401.1" cy="1082.02" r="2.45"/><circle cx="406.59" cy="1093.02" r="2.45"/><circle cx="412.09" cy="1103.48" r="2.45"/><circle cx="417.59" cy="1110.69" r="2.45"/><circle cx="423.09" cy="1116.7" r="2.45"/><circle cx="428.58" cy="1120.77" r="2.45"/><circle cx="434.08" cy="1122.16" r="2.45"/><circle cx="439.58" cy="1123.64" r="2.45"/><circle cx="445.07" cy="1125.12" r="2.45"/><circle cx="450.57" cy="1125.86" r="2.45"/><circle cx="456.07" cy="1126.32" r="2.45"/><circle cx="461.56" cy="1126.32" r="2.45"/><circle cx="467.06" cy="1126.32" r="2.45"/><circle cx="472.56" cy="1126.79" r="2.45"/><circle cx="478.06" cy="1127.25" r="2.45"/><circle cx="483.55" cy="1127.25" r="2.45"/><circle cx="489.05" cy="1126.79" r="2.45"/><circle cx="494.55" cy="1126.79" r="2.45"/><circle cx="500.04" cy="1126.32" r="2.45"/><circle cx="505.54" cy="1125.4" r="2.45"/><circle cx="511.04" cy="1124.47" r="2.45"/><circle cx="516.54" cy="1123.55" r="2.45"/><circle cx="522.03" cy="1121.42" r="2.45"/><circle cx="527.53" cy="1126.51" r="2.45"/><circle cx="533.03" cy="1127.62" r="2.45"/><circle cx="538.52" cy="1127.99" r="2.45"/><circle cx="544.02" cy="1127.53" r="2.45"/><circle cx="549.52" cy="1128.17" r="2.45"/><circle cx="555.01" cy="1127.62" r="2.45"/><circle cx="560.51" cy="1126.32" r="2.45"/><circle cx="566.01" cy="1124.84" r="2.45"/><circle cx="571.51" cy="1124.11" r="2.45"/><circle cx="577" cy="1120.68" r="2.45"/><circle cx="582.5" cy="1120.4" r="2.45"/></g>
<path d="M208.7,1126.32C210.53,1125.71 212.36,1123.2 214.2,1122.62C216.03,1122.05 217.86,1124.17 219.69,1122.9C221.53,1121.64 223.36,1116.74 225.19,1115.04C227.02,1113.34 228.86,1111.31 230.69,1112.73C232.52,1114.15 234.35,1121.38 236.19,1123.55C238.02,1125.72 239.85,1125.92 241.68,1125.77C243.51,1125.62 245.35,1123.1 247.18,1122.62C249.01,1122.15 250.84,1122.67 252.68,1122.9C254.51,1123.13 256.34,1123.13 258.17,1124.01C260.01,1124.89 261.84,1127.4 263.67,1128.17C265.5,1128.95 267.34,1128.56 269.17,1128.64C271,1128.71 272.83,1128.82 274.66,1128.64C276.5,1128.45 278.33,1128.56 280.16,1127.53C281.99,1126.49 283.83,1123.06 285.66,1122.44C287.49,1121.82 289.32,1123.57 291.16,1123.83C292.99,1124.09 294.82,1123.98 296.65,1124.01C298.49,1124.04 300.32,1125.01 302.15,1124.01C303.98,1123.01 305.81,1120.74 307.65,1118C309.48,1115.26 311.31,1114.05 313.14,1107.55C314.98,1101.04 316.81,1091.64 318.64,1078.96C320.47,1066.29 322.31,1041.93 324.14,1031.51C325.97,1021.09 327.8,1029.69 329.64,1016.43C331.47,1003.18 333.3,984.28 335.13,951.96C336.96,919.65 338.8,839.98 340.63,822.55C342.46,805.13 344.29,829.26 346.13,847.44C347.96,865.61 349.79,911.88 351.62,931.61C353.46,951.35 355.29,964.99 357.12,965.84C358.95,966.69 360.79,940.65 362.62,936.7C364.45,932.75 366.28,940.77 368.11,942.16C369.95,943.54 371.78,945.78 373.61,945.02C375.44,944.27 377.28,927.8 379.11,937.62C380.94,947.45 382.77,987.88 384.61,1003.95C386.44,1020.01 388.27,1025.79 390.1,1034.01C391.94,1042.23 393.77,1047.47 395.6,1053.25C397.43,1059.03 399.26,1064.83 401.1,1068.7C402.93,1072.57 404.76,1072.46 406.59,1076.47C408.43,1080.48 410.26,1089.31 412.09,1092.75C413.92,1096.19 415.76,1094.74 417.59,1097.09C419.42,1099.45 421.25,1104.28 423.09,1106.9C424.92,1109.52 426.75,1111.86 428.58,1112.82C430.41,1113.78 432.25,1111.85 434.08,1112.63C435.91,1113.42 437.74,1115.95 439.58,1117.54C441.41,1119.13 443.24,1120.85 445.07,1122.16C446.91,1123.47 448.74,1124.6 450.57,1125.4C452.4,1126.2 454.24,1126.71 456.07,1126.97C457.9,1127.23 459.73,1126.91 461.56,1126.97C463.4,1127.03 465.23,1127.3 467.06,1127.34C468.89,1127.39 470.73,1127.27 472.56,1127.25C474.39,1127.23 476.22,1127.48 478.06,1127.25C479.89,1127.02 481.72,1126.4 483.55,1125.86C485.39,1125.32 487.22,1124.07 489.05,1124.01C490.88,1123.95 492.71,1125.06 494.55,1125.49C496.38,1125.92 498.21,1126.69 500.04,1126.6C501.88,1126.51 503.71,1125.37 505.54,1124.94C507.37,1124.51 509.21,1124.09 511.04,1124.01C512.87,1123.94 514.7,1124.72 516.54,1124.47C518.37,1124.23 520.2,1122.21 522.03,1122.53C523.86,1122.86 525.7,1125.48 527.53,1126.42C529.36,1127.36 531.19,1127.88 533.03,1128.17C534.86,1128.47 536.69,1128.17 538.52,1128.17C540.36,1128.17 542.19,1128.14 544.02,1128.17C545.85,1128.21 547.69,1128.33 549.52,1128.36C551.35,1128.39 553.18,1128.39 555.01,1128.36C556.85,1128.33 558.68,1128.21 560.51,1128.17C562.34,1128.14 564.18,1128.14 566.01,1128.17C567.84,1128.21 569.67,1128.28 571.51,1128.36C573.34,1128.44 575.17,1128.81 577,1128.64C578.84,1128.47 580.67,1127.56 582.5,1127.34" fill="none" stroke="#BF6BFF" stroke-width="2" stroke-linejoin="round" stroke-linecap="round"/>
<g fill="#BF6BFF"><circle cx="208.7" cy="1126.32" r="2.45"/><circle cx="214.2" cy="1122.62" r="2.45"/><circle cx="219.69" cy="1122.9" r="2.45"/><circle cx="225.19" cy="1115.04" r="2.45"/><circle cx="230.69" cy="1112.73" r="2.45"/><circle cx="236.19" cy="1123.55" r="2.45"/><circle cx="241.68" cy="1125.77" r="2.45"/><circle cx="247.18" cy="1122.62" r="2.45"/><circle cx="252.68" cy="1122.9" r="2.45"/><circle cx="258.17" cy="1124.01" r="2.45"/><circle cx="263.67" cy="1128.17" r="2.45"/><circle cx="269.17" cy="1128.64" r="2.45"/><circle cx="274.66" cy="1128.64" r="2.45"/><circle cx="280.16" cy="1127.53" r="2.45"/><circle cx="285.66" cy="1122.44" r="2.45"/><circle cx="291.16" cy="1123.83" r="2.45"/><circle cx="296.65" cy="1124.01" r="2.45"/><circle cx="302.15" cy="1124.01" r="2.45"/><circle cx="307.65" cy="1118" r="2.45"/><circle cx="313.14" cy="1107.55" r="2.45"/><circle cx="318.64" cy="1078.96" r="2.45"/><circle cx="324.14" cy="1031.51" r="2.45"/><circle cx="329.64" cy="1016.43" r="2.45"/><circle cx="335.13" cy="951.96" r="2.45"/><circle cx="340.63" cy="822.55" r="2.45"/><circle cx="346.13" cy="847.44" r="2.45"/><circle cx="351.62" cy="931.61" r="2.45"/><circle cx="357.12" cy="965.84" r="2.45"/><circle cx="362.62" cy="936.7" r="2.45"/><circle cx="368.11" cy="942.16" r="2.45"/><circle cx="373.61" cy="945.02" r="2.45"/><circle cx="379.11" cy="937.62" r="2.45"/><circle cx="384.61" cy="1003.95" r="2.45"/><circle cx="390.1" cy="1034.01" r="2.45"/><circle cx="395.6" cy="1053.25" r="2.45"/><circle cx="401.1" cy="1068.7" r="2.45"/><circle cx="406.59" cy="1076.47" r="2.45"/><circle cx="412.09" cy="1092.75" r="2.45"/><circle cx="417.59" cy="1097.09" r="2.45"/><circle cx="423.09" cy="1106.9" r="2.45"/><circle cx="428.58" cy="1112.82" r="2.45"/><circle cx="434.08" cy="1112.63" r="2.45"/><circle cx="439.58" cy="1117.54" r="2.45"/><circle cx="445.07" cy="1122.16" r="2.45"/><circle cx="450.57" cy="1125.4" r="2.45"/><circle cx="456.07" cy="1126.97" r="2.45"/><circle cx="461.56" cy="1126.97" r="2.45"/><circle cx="467.06" cy="1127.34" r="2.45"/><circle cx="472.56" cy="1127.25" r="2.45"/><circle cx="478.06" cy="1127.25" r="2.45"/><circle cx="483.55" cy="1125.86" r="2.45"/><circle cx="489.05" cy="1124.01" r="2.45"/><circle cx="494.55" cy="1125.49" r="2.45"/><circle cx="500.04" cy="1126.6" r="2.45"/><circle cx="505.54" cy="1124.94" r="2.45"/><circle cx="511.04" cy="1124.01" r="2.45"/><circle cx="516.54" cy="1124.47" r="2.45"/><circle cx="522.03" cy="1122.53" r="2.45"/><circle cx="527.53" cy="1126.42" r="2.45"/><circle cx="533.03" cy="1128.17" r="2.45"/><circle cx="538.52" cy="1128.17" r="2.45"/><circle cx="544.02" cy="1128.17" r="2.45"/><circle cx="549.52" cy="1128.36" r="2.45"/><circle cx="555.01" cy="1128.36" r="2.45"/><circle cx="560.51" cy="1128.17" r="2.45"/><circle cx="566.01" cy="1128.17" r="2.45"/><circle cx="571.51" cy="1128.36" r="2.45"/><circle cx="577" cy="1128.64" r="2.45"/><circle cx="582.5" cy="1127.34" r="2.45"/></g>
<path d="M208.7,1125.58C210.53,1125.4 212.36,1124.37 214.2,1124.47C216.03,1124.58 217.86,1125.91 219.69,1126.23C221.53,1126.56 223.36,1126.97 225.19,1126.42C227.02,1125.86 228.86,1123.09 230.69,1122.9C232.52,1122.72 234.35,1124.75 236.19,1125.31C238.02,1125.86 239.85,1126.05 241.68,1126.23C243.51,1126.42 245.35,1126.57 247.18,1126.42C249.01,1126.26 250.84,1125.38 252.68,1125.31C254.51,1125.23 256.34,1125.58 258.17,1125.95C260.01,1126.32 261.84,1127.19 263.67,1127.53C265.5,1127.87 267.34,1128.21 269.17,1127.99C271,1127.77 272.83,1127.37 274.66,1126.23C276.5,1125.09 278.33,1123.35 280.16,1121.14C281.99,1118.94 283.83,1113.27 285.66,1113C287.49,1112.74 289.32,1119.48 291.16,1119.57C292.99,1119.66 294.82,1118.45 296.65,1113.56C298.49,1108.67 300.32,1095.94 302.15,1090.25C303.98,1084.56 305.81,1086.13 307.65,1079.43C309.48,1072.72 311.31,1059.14 313.14,1050.01C314.98,1040.89 316.81,1033.89 318.64,1024.67C320.47,1015.45 322.31,1009.47 324.14,994.7C325.97,979.93 327.8,942.33 329.64,936.05C331.47,929.78 333.3,967.84 335.13,957.05C336.96,946.26 338.8,894.77 340.63,871.3C342.46,847.84 344.29,810.3 346.13,816.26C347.96,822.23 349.79,883.85 351.62,907.1C353.46,930.35 355.29,942.28 357.12,955.75C358.95,969.23 360.79,983.72 362.62,987.94C364.45,992.17 366.28,979.57 368.11,981.1C369.95,982.63 371.78,988.25 373.61,997.1C375.44,1005.95 377.28,1027.33 379.11,1034.19C380.94,1041.06 382.77,1035.2 384.61,1038.26C386.44,1041.33 388.27,1047.45 390.1,1052.6C391.94,1057.75 393.77,1064.92 395.6,1069.16C397.43,1073.4 399.26,1074.46 401.1,1078.04C402.93,1081.62 404.76,1086.77 406.59,1090.62C408.43,1094.47 410.26,1098.45 412.09,1101.16C413.92,1103.88 415.76,1104.94 417.59,1106.9C419.42,1108.86 421.25,1111.12 423.09,1112.91C424.92,1114.7 426.75,1116.57 428.58,1117.63C430.41,1118.69 432.25,1118.69 434.08,1119.29C435.91,1119.9 437.74,1120.45 439.58,1121.24C441.41,1122.02 443.24,1123.36 445.07,1124.01C446.91,1124.66 448.74,1124.94 450.57,1125.12C452.4,1125.31 454.24,1125.2 456.07,1125.12C457.9,1125.05 459.73,1124.61 461.56,1124.66C463.4,1124.71 465.23,1125.08 467.06,1125.4C468.89,1125.72 470.73,1126.28 472.56,1126.6C474.39,1126.93 476.22,1127.16 478.06,1127.34C479.89,1127.53 481.72,1127.87 483.55,1127.71C485.39,1127.56 487.22,1126.54 489.05,1126.42C490.88,1126.29 492.71,1126.82 494.55,1126.97C496.38,1127.13 498.21,1127.7 500.04,1127.34C501.88,1126.99 503.71,1125.45 505.54,1124.84C507.37,1124.24 509.21,1123.84 511.04,1123.73C512.87,1123.63 514.7,1124.11 516.54,1124.2C518.37,1124.29 520.2,1123.78 522.03,1124.29C523.86,1124.8 525.7,1126.63 527.53,1127.25C529.36,1127.87 531.19,1127.87 533.03,1127.99C534.86,1128.11 536.69,1127.93 538.52,1127.99C540.36,1128.05 542.19,1128.27 544.02,1128.36C545.85,1128.45 547.69,1128.54 549.52,1128.54C551.35,1128.54 553.18,1128.64 555.01,1128.36C556.85,1128.08 558.68,1127.13 560.51,1126.88C562.34,1126.63 564.18,1126.79 566.01,1126.88C567.84,1126.97 569.67,1127.5 571.51,1127.43C573.34,1127.37 575.17,1127.16 577,1126.51C578.84,1125.86 580.67,1124.04 582.5,1123.55" fill="none" stroke="#FAA61A" stroke-width="2" stroke-linejoin="round" stroke-linecap="round"/>
<g fill="#FAA61A"><circle cx="208.7" cy="1125.58" r="2.45"/><circle cx="214.2" cy="1124.47" r="2.45"/><circle cx="219.69" cy="1126.23" r="2.45"/><circle cx="225.19" cy="1126.42" r="2.45"/><circle cx="230.69" cy="1122.9" r="2.45"/><circle cx="236.19" cy="1125.31" r="2.45"/><circle cx="241.68" cy="1126.23" r="2.45"/><circle cx="247.18" cy="1126.42" r="2.45"/><circle cx="252.68" cy="1125.31" r="2.45"/><circle cx="258.17" cy="1125.95" r="2.45"/><circle cx="263.67" cy="1127.53" r="2.45"/><circle cx="269.17" cy="1127.99" r="2.45"/><circle cx="274.66" cy="1126.23" r="2.45"/><circle cx="280.16" cy="1121.14" r="2.45"/><circle cx="285.66" cy="1113" r="2.45"/><circle cx="291.16" cy="1119.57" r="2.45"/><circle cx="296.65" cy="1113.56" r="2.45"/><circle cx="302.15" cy="1090.25" r="2.45"/><circle cx="307.65" cy="1079.43" r="2.45"/><circle cx="313.14" cy="1050.01" r="2.45"/><circle cx="318.64" cy="1024.67" r="2.45"/><circle cx="324.14" cy="994.7" r="2.45"/><circle cx="329.64" cy="936.05" r="2.45"/><circle cx="335.13" cy="957.05" r="2.45"/><circle cx="340.63" cy="871.3" r="2.45"/><circle cx="346.13" cy="816.26" r="2.45"/><circle cx="351.62" cy="907.1" r="2.45"/><circle cx="357.12" cy="955.75" r="2.45"/><circle cx="362.62" cy="987.94" r="2.45"/><circle cx="368.11" cy="981.1" r="2.45"/><circle cx="373.61" cy="997.1" r="2.45"/><circle cx="379.11" cy="1034.19" r="2.45"/><circle cx="384.61" cy="1038.26" r="2.45"/><circle cx="390.1" cy="1052.6" r="2.45"/><circle cx="395.6" cy="1069.16" r="2.45"/><circle cx="401.1" cy="1078.04" r="2.45"/><circle cx="406.59" cy="1090.62" r="2.45"/><circle cx="412.09" cy="1101.16" r="2.45"/><circle cx="417.59" cy="1106.9" r="2.45"/><circle cx="423.09" cy="1112.91" r="2.45"/><circle cx="428.58" cy="1117.63" r="2.45"/><circle cx="434.08" cy="1119.29" r="2.45"/><circle cx="439.58" cy="1121.24" r="2.45"/><circle cx="445.07" cy="1124.01" r="2.45"/><circle cx="450.57" cy="1125.12" r="2.45"/><circle cx="456.07" cy="1125.12" r="2.45"/><circle cx="461.56" cy="1124.66" r="2.45"/><circle cx="467.06" cy="1125.4" r="2.45"/><circle cx="472.56" cy="1126.6" r="2.45"/><circle cx="478.06" cy="1127.34" r="2.45"/><circle cx="483.55" cy="1127.71" r="2.45"/><circle cx="489.05" cy="1126.42" r="2.45"/><circle cx="494.55" cy="1126.97" r="2.45"/><circle cx="500.04" cy="1127.34" r="2.45"/><circle cx="505.54" cy="1124.84" r="2.45"/><circle cx="511.04" cy="1123.73" r="2.45"/><circle cx="516.54" cy="1124.2" r="2.45"/><circle cx="522.03" cy="1124.29" r="2.45"/><circle cx="527.53" cy="1127.25" r="2.45"/><circle cx="533.03" cy="1127.99" r="2.45"/><circle cx="538.52" cy="1127.99" r="2.45"/><circle cx="544.02" cy="1128.36" r="2.45"/><circle cx="549.52" cy="1128.54" r="2.45"/><circle cx="555.01" cy="1128.36" r="2.45"/><circle cx="560.51" cy="1126.88" r="2.45"/><circle cx="566.01" cy="1126.88" r="2.45"/><circle cx="571.51" cy="1127.43" r="2.45"/><circle cx="577" cy="1126.51" r="2.45"/><circle cx="582.5" cy="1123.55" r="2.45"/></g>
</g>
<line x1="190.1" x2="601.8" y1="1129.1" y2="1129.1" class="a"/>
<line x1="208.7" x2="208.7" y1="1129.7" y2="1133.7" class="t"/>
<text x="208.35" y="1147.75" class="xt" font-size="6.2" transform="rotate(-45 208.35 1145.55)">Jul 20</text>
<line x1="219.69" x2="219.69" y1="1129.7" y2="1133.7" class="t"/>
<text x="219.34" y="1147.75" class="xt" font-size="6.2" transform="rotate(-45 219.34 1145.55)">Aug 03</text>
<line x1="230.69" x2="230.69" y1="1129.7" y2="1133.7" class="t"/>
<text x="230.34" y="1147.75" class="xt" font-size="6.2" transform="rotate(-45 230.34 1145.55)">Aug 17</text>
<line x1="241.68" x2="241.68" y1="1129.7" y2="1133.7" class="t"/>
<text x="241.33" y="1147.75" class="xt" font-size="6.2" transform="rotate(-45 241.33 1145.55)">Aug 31</text>
<line x1="252.68" x2="252.68" y1="1129.7" y2="1133.7" class="t"/>
<text x="252.33" y="1147.75" class="xt" font-size="6.2" transform="rotate(-45 252.33 1145.55)">Sep 14</text>
<line x1="263.67" x2="263.67" y1="1129.7" y2="1133.7" class="t"/>
<text x="263.32" y="1147.75" class="xt" font-size="6.2" transform="rotate(-45 263.32 1145.55)">Sep 28</text>
<line x1="274.66" x2="274.66" y1="1129.7" y2="1133.7" class="t"/>
<text x="274.31" y="1147.75" class="xt" font-size="6.2" transform="rotate(-45 274.31 1145.55)">Oct 12</text>
<line x1="285.66" x2="285.66" y1="1129.7" y2="1133.7" class="t"/>
<text x="285.31" y="1147.75" class="xt" font-size="6.2" transform="rotate(-45 285.31 1145.55)">Oct 26</text>
<line x1="296.65" x2="296.65" y1="1129.7" y2="1133.7" class="t"/>
<text x="296.3" y="1147.75" class="xt" font-size="6.2" transform="rotate(-45 296.3 1145.55)">Nov 09</text>
<line x1="307.65" x2="307.65" y1="1129.7" y2="1133.7" class="t"/>
<text x="307.3" y="1147.75" class="xt" font-size="6.2" transform="rotate(-45 307.3 1145.55)">Nov 23</text>
<line x1="318.64" x2="318.64" y1="1129.7" y2="1133.7" class="t"/>
<text x="318.29" y="1147.75" class="xt" font-size="6.2" transform="rotate(-45 318.29 1145.55)">Dec 07</text>
<line x1="329.64" x2="329.64" y1="1129.7" y2="1133.7" class="t"/>
<text x="329.29" y="1147.75" class="xt" font-size="6.2" transform="rotate(-45 329.29 1145.55)">Dec 21</text>
<line x1="340.63" x2="340.63" y1="1129.7" y2="1133.7" class="t"/>
<text x="340.28" y="1147.75" class="xt" font-size="6.2" transform="rotate(-45 340.28 1145.55)">Jan 04</text>
<line x1="351.62" x2="351.62" y1="1129.7" y2="1133.7" class="t"/>
<text x="351.27" y="1147.75" class="xt" font-size="6.2" transform="rotate(-45 351.27 1145.55)">Jan 18</text>
<line x1="362.62" x2="362.62" y1="1129.7" y2="1133.7" class="t"/>
<text x="362.27" y="1147.75" class="xt" font-size="6.2" transform="rotate(-45 362.27 1145.55)">Feb 01</text>
<line x1="373.61" x2="373.61" y1="1129.7" y2="1133.7" class="t"/>
<text x="373.26" y="1147.75" class="xt" font-size="6.2" transform="rotate(-45 373.26 1145.55)">Feb 15</text>
<line x1="384.61" x2="384.61" y1="1129.7" y2="1133.7" class="t"/>
<text x="384.26" y="1147.75" class="xt" font-size="6.2" transform="rotate(-45 384.26 1145.55)">Mar 01</text>
<line x1="395.6" x2="395.6" y1="1129.7" y2="1133.7" class="t"/>
<text x="395.25" y="1147.75" class="xt" font-size="6.2" transform="rotate(-45 395.25 1145.55)">Mar 15</text>
<line x1="406.59" x2="406.59" y1="1129.7" y2="1133.7" class="t"/>
<text x="406.24" y="1147.75" class="xt" font-size="6.2" transform="rotate(-45 406.24 1145.55)">Mar 29</text>
<line x1="417.59" x2="417.59" y1="1129.7" y2="1133.7" class="t"/>
<text x="417.24" y="1147.75" class="xt" font-size="6.2" transform="rotate(-45 417.24 1145.55)">Apr 12</text>
<line x1="428.58" x2="428.58" y1="1129.7" y2="1133.7" class="t"/>
<text x="428.23" y="1147.75" class="xt" font-size="6.2" transform="rotate(-45 428.23 1145.55)">Apr 26</text>
<line x1="439.58" x2="439.58" y1="1129.7" y2="1133.7" class="t"/>
<text x="439.23" y="1147.75" class="xt" font-size="6.2" transform="rotate(-45 439.23 1145.55)">May 10</text>
<line x1="450.57" x2="450.57" y1="1129.7" y2="1133.7" class="t"/>
<text x="450.22" y="1147.75" class="xt" font-size="6.2" transform="rotate(-45 450.22 1145.55)">May 24</text>
<line x1="461.56" x2="461.56" y1="1129.7" y2="1133.7" class="t"/>
<text x="461.21" y="1147.75" class="xt" font-size="6.2" transform="rotate(-45 461.21 1145.55)">Jun 07</text>
<line x1="472.56" x2="472.56" y1="1129.7" y2="1133.7" class="t"/>
<text x="472.21" y="1147.75" class="xt" font-size="6.2" transform="rotate(-45 472.21 1145.55)">Jun 21</text>
<line x1="483.55" x2="483.55" y1="1129.7" y2="1133.7" class="t"/>
<text x="483.2" y="1147.75" class="xt" font-size="6.2" transform="rotate(-45 483.2 1145.55)">Jul 05</text>
<line x1="494.55" x2="494.55" y1="1129.7" y2="1133.7" class="t"/>
<text x="494.2" y="1147.75" class="xt" font-size="6.2" transform="rotate(-45 494.2 1145.55)">Jul 19</text>
<line x1="505.54" x2="505.54" y1="1129.7" y2="1133.7" class="t"/>
<text x="505.19" y="1147.75" class="xt" font-size="6.2" transform="rotate(-45 505.19 1145.55)">Aug 02</text>
<line x1="516.54" x2="516.54" y1="1129.7" y2="1133.7" class="t"/>
<text x="516.19" y="1147.75" class="xt" font-size="6.2" transform="rotate(-45 516.19 1145.55)">Aug 16</text>
<line x1="527.53" x2="527.53" y1="1129.7" y2="1133.7" class="t"/>
<text x="527.18" y="1147.75" class="xt" font-size="6.2" transform="rotate(-45 527.18 1145.55)">Aug 30</text>
<line x1="538.52" x2="538.52" y1="1129.7" y2="1133.7" class="t"/>
<text x="538.17" y="1147.75" class="xt" font-size="6.2" transform="rotate(-45 538.17 1145.55)">Sep 13</text>
<line x1="549.52" x2="549.52" y1="1129.7" y2="1133.7" class="t"/>
<text x="549.17" y="1147.75" class="xt" font-size="6.2" transform="rotate(-45 549.17 1145.55)">Sep 27</text>
<line x1="560.51" x2="560.51" y1="1129.7" y2="1133.7" class="t"/>
<text x="560.16" y="1147.75" class="xt" font-size="6.2" transform="rotate(-45 560.16 1145.55)">Oct 11</text>
<line x1="571.51" x2="571.51" y1="1129.7" y2="1133.7" class="t"/>
<text x="571.16" y="1147.75" class="xt" font-size="6.2" transform="rotate(-45 571.16 1145.55)">Oct 25</text>
<line x1="582.5" x2="582.5" y1="1129.7" y2="1133.7" class="t"/>
<text x="582.15" y="1147.75" class="xt" font-size="6.2" transform="rotate(-45 582.15 1145.55)">Nov 08</text>
<text x="163.3" y="963.2" class="yl" font-size="12.4" textLength="194" lengthAdjust="spacing" transform="rotate(-90 163.3 963.2)">Effective concentration, copies/mL</text>
<rect x="495.4" y="803.4" width="99.8" height="72.8" rx="2.5" fill="#fff" fill-opacity="0.8" stroke="#d2d2d2" stroke-width="1"/>
<line x1="499.1" x2="525.7" y1="812.8" y2="812.8" stroke="#6FDC9B" stroke-width="2"/>
<text transform="translate(534.6 817.2) scale(1.06 1)" class="lt" font-size="12">West</text>
<line x1="499.1" x2="525.7" y1="830.13" y2="830.13" stroke="#FF5C93" stroke-width="2"/>
<text transform="translate(534.6 834.53) scale(1.06 1)" class="lt" font-size="12">South</text>
<line x1="499.1" x2="525.7" y1="847.46" y2="847.46" stroke="#BF6BFF" stroke-width="2"/>
<text transform="translate(534.6 851.86) scale(1.06 1)" class="lt" font-size="12">Midwest</text>
<line x1="499.1" x2="525.7" y1="864.79" y2="864.79" stroke="#FAA61A" stroke-width="2"/>
<text transform="translate(534.6 869.19) scale(1.06 1)" class="lt" font-size="12">Northeast</text>
<text x="396" y="1207.7" class="ct" font-size="14.6">RSV</text>
<clipPath id="clipCOVID19"><rect x="787.3" y="731.2" width="398.4" height="400"/></clipPath>
<text transform="translate(782.2 1135.92) scale(1.125 1)" class="yt" font-size="12.69">0</text>
<line x1="787.3" x2="1185.7" y1="1061.64" y2="1061.64" class="g"/>
<text transform="translate(782.2 1066.36) scale(1.125 1)" class="yt" font-size="12.69">200</text>
<line x1="787.3" x2="1185.7" y1="992.08" y2="992.08" class="g"/>
<text transform="translate(782.2 996.8) scale(1.125 1)" class="yt" font-size="12.69">400</text>
<line x1="787.3" x2="1185.7" y1="922.52" y2="922.52" class="g"/>
<text transform="translate(782.2 927.24) scale(1.125 1)" class="yt" font-size="12.69">600</text>
<line x1="787.3" x2="1185.7" y1="852.96" y2="852.96" class="g"/>
<text transform="translate(782.2 857.68) scale(1.125 1)" class="yt" font-size="12.69">800</text>
<line x1="787.3" x2="1185.7" y1="783.4" y2="783.4" class="g"/>
<text transform="translate(782.2 788.12) scale(1.125 1)" class="yt" font-size="12.69">1000</text>
<g clip-path="url(#clipCOVID19)">
<path d="M805.8,949.4C807.57,949.13 809.35,947.73 811.12,947.77C812.89,947.81 814.67,953.9 816.44,949.65C818.21,945.39 819.98,931.17 821.76,922.24C823.53,913.31 825.3,896.88 827.08,896.09C828.85,895.29 830.62,913.77 832.4,917.48C834.17,921.19 835.94,921.16 837.71,918.35C839.49,915.54 841.26,901.65 843.03,900.61C844.81,899.57 846.58,905.94 848.35,912.09C850.13,918.23 851.9,926.73 853.67,937.48C855.45,948.22 857.22,964.94 858.99,976.53C860.76,988.13 862.54,997.7 864.31,1007.04C866.08,1016.37 867.86,1024.46 869.63,1032.53C871.4,1040.6 873.18,1049.88 874.95,1055.45C876.72,1061.01 878.49,1063.22 880.27,1065.92C882.04,1068.62 883.81,1070.89 885.59,1071.66C887.36,1072.42 889.13,1071.54 890.91,1070.51C892.68,1069.48 894.45,1066.86 896.22,1065.47C898,1064.07 899.77,1063.16 901.54,1062.13C903.32,1061.09 905.09,1061.95 906.86,1059.24C908.64,1056.53 910.41,1050.1 912.18,1045.88C913.96,1041.67 915.73,1037.06 917.5,1033.96C919.27,1030.85 921.05,1030.31 922.82,1027.28C924.59,1024.24 926.37,1019.92 928.14,1015.73C929.91,1011.55 931.69,1001.24 933.46,1002.17C935.23,1003.09 937,1015.44 938.78,1021.3C940.55,1027.15 942.32,1033.87 944.1,1037.29C945.87,1040.71 947.64,1041.5 949.42,1041.82C951.19,1042.13 952.96,1040.52 954.74,1039.21C956.51,1037.9 958.28,1034.11 960.05,1033.96C961.83,1033.8 963.6,1036.32 965.37,1038.27C967.15,1040.22 968.92,1041.62 970.69,1045.64C972.47,1049.66 974.24,1058.94 976.01,1062.41C977.78,1065.87 979.56,1064.54 981.33,1066.4C983.1,1068.27 984.88,1071.5 986.65,1073.57C988.42,1075.64 990.2,1078.18 991.97,1078.82C993.74,1079.46 995.52,1077.87 997.29,1077.4C999.06,1076.92 1000.83,1075.73 1002.61,1075.97C1004.38,1076.21 1006.15,1078.06 1007.93,1078.82C1009.7,1079.58 1011.47,1080.08 1013.25,1080.53C1015.02,1080.97 1016.79,1082.22 1018.56,1081.46C1020.34,1080.71 1022.11,1076.72 1023.88,1075.97C1025.66,1075.22 1027.43,1077.22 1029.2,1076.94C1030.98,1076.67 1032.75,1073.91 1034.52,1074.33C1036.3,1074.76 1038.07,1078.68 1039.84,1079.48C1041.61,1080.28 1043.39,1078.84 1045.16,1079.13C1046.93,1079.43 1048.71,1080.38 1050.48,1081.26C1052.25,1082.13 1054.03,1084.14 1055.8,1084.39C1057.57,1084.63 1059.34,1083.83 1061.12,1082.72C1062.89,1081.6 1064.66,1079.27 1066.44,1077.71C1068.21,1076.14 1069.98,1074.88 1071.76,1073.33C1073.53,1071.77 1075.3,1071.17 1077.08,1068.39C1078.85,1065.6 1080.62,1059.51 1082.39,1056.63C1084.17,1053.76 1085.94,1052.36 1087.71,1051.14C1089.49,1049.91 1091.26,1053.79 1093.03,1049.29C1094.81,1044.8 1096.58,1031.6 1098.35,1024.18C1100.12,1016.76 1101.9,1011.07 1103.67,1004.77C1105.44,998.48 1107.22,994.63 1108.99,986.41C1110.76,978.19 1112.54,960.66 1114.31,955.46C1116.08,950.26 1117.85,951.46 1119.63,955.21C1121.4,958.97 1123.17,971.14 1124.95,977.99C1126.72,984.85 1128.49,984.41 1130.27,996.32C1132.04,1008.24 1133.81,1040.37 1135.59,1049.47C1137.36,1058.57 1139.13,1050.66 1140.9,1050.93C1142.68,1051.19 1144.45,1046.64 1146.22,1051.07C1148,1055.5 1149.77,1072.82 1151.54,1077.5C1153.32,1082.18 1155.09,1079.88 1156.86,1079.17C1158.63,1078.46 1160.41,1070.09 1162.18,1073.22C1163.95,1076.36 1165.73,1093.86 1167.5,1097.99" fill="none" stroke="#6FDC9B" stroke-width="2.2" stroke-linejoin="round" stroke-linecap="round"/>
<g fill="#6FDC9B"><circle cx="805.8" cy="949.4" r="2.6"/><circle cx="811.12" cy="947.77" r="2.6"/><circle cx="816.44" cy="949.65" r="2.6"/><circle cx="821.76" cy="922.24" r="2.6"/><circle cx="827.08" cy="896.09" r="2.6"/><circle cx="832.4" cy="917.48" r="2.6"/><circle cx="837.71" cy="918.35" r="2.6"/><circle cx="843.03" cy="900.61" r="2.6"/><circle cx="848.35" cy="912.09" r="2.6"/><circle cx="853.67" cy="937.48" r="2.6"/><circle cx="858.99" cy="976.53" r="2.6"/><circle cx="864.31" cy="1007.04" r="2.6"/><circle cx="869.63" cy="1032.53" r="2.6"/><circle cx="874.95" cy="1055.45" r="2.6"/><circle cx="880.27" cy="1065.92" r="2.6"/><circle cx="885.59" cy="1071.66" r="2.6"/><circle cx="890.91" cy="1070.51" r="2.6"/><circle cx="896.22" cy="1065.47" r="2.6"/><circle cx="901.54" cy="1062.13" r="2.6"/><circle cx="906.86" cy="1059.24" r="2.6"/><circle cx="912.18" cy="1045.88" r="2.6"/><circle cx="917.5" cy="1033.96" r="2.6"/><circle cx="922.82" cy="1027.28" r="2.6"/><circle cx="928.14" cy="1015.73" r="2.6"/><circle cx="933.46" cy="1002.17" r="2.6"/><circle cx="938.78" cy="1021.3" r="2.6"/><circle cx="944.1" cy="1037.29" r="2.6"/><circle cx="949.42" cy="1041.82" r="2.6"/><circle cx="954.74" cy="1039.21" r="2.6"/><circle cx="960.05" cy="1033.96" r="2.6"/><circle cx="965.37" cy="1038.27" r="2.6"/><circle cx="970.69" cy="1045.64" r="2.6"/><circle cx="976.01" cy="1062.41" r="2.6"/><circle cx="981.33" cy="1066.4" r="2.6"/><circle cx="986.65" cy="1073.57" r="2.6"/><circle cx="991.97" cy="1078.82" r="2.6"/><circle cx="997.29" cy="1077.4" r="2.6"/><circle cx="1002.61" cy="1075.97" r="2.6"/><circle cx="1007.93" cy="1078.82" r="2.6"/><circle cx="1013.25" cy="1080.53" r="2.6"/><circle cx="1018.56" cy="1081.46" r="2.6"/><circle cx="1023.88" cy="1075.97" r="2.6"/><circle cx="1029.2" cy="1076.94" r="2.6"/><circle cx="1034.52" cy="1074.33" r="2.6"/><circle cx="1039.84" cy="1079.48" r="2.6"/><circle cx="1045.16" cy="1079.13" r="2.6"/><circle cx="1050.48" cy="1081.26" r="2.6"/><circle cx="1055.8" cy="1084.39" r="2.6"/><circle cx="1061.12" cy="1082.72" r="2.6"/><circle cx="1066.44" cy="1077.71" r="2.6"/><circle cx="1071.76" cy="1073.33" r="2.6"/><circle cx="1077.08" cy="1068.39" r="2.6"/><circle cx="1082.39" cy="1056.63" r="2.6"/><circle cx="1087.71" cy="1051.14" r="2.6"/><circle cx="1093.03" cy="1049.29" r="2.6"/><circle cx="1098.35" cy="1024.18" r="2.6"/><circle cx="1103.67" cy="1004.77" r="2.6"/><circle cx="1108.99" cy="986.41" r="2.6"/><circle cx="1114.31" cy="955.46" r="2.6"/><circle cx="1119.63" cy="955.21" r="2.6"/><circle cx="1124.95" cy="977.99" r="2.6"/><circle cx="1130.27" cy="996.32" r="2.6"/><circle cx="1135.59" cy="1049.47" r="2.6"/><circle cx="1140.9" cy="1050.93" r="2.6"/><circle cx="1146.22" cy="1051.07" r="2.6"/><circle cx="1151.54" cy="1077.5" r="2.6"/><circle cx="1156.86" cy="1079.17" r="2.6"/><circle cx="1162.18" cy="1073.22" r="2.6"/><circle cx="1167.5" cy="1097.99" r="2.6"/></g>
<path d="M805.8,937.82C807.57,932.93 809.35,916.38 811.12,908.43C812.89,900.49 814.67,892.46 816.44,890.17C818.21,887.88 819.98,890.86 821.76,894.7C823.53,898.53 825.3,910.59 827.08,913.2C828.85,915.81 830.62,909.92 832.4,910.35C834.17,910.77 835.94,927.74 837.71,915.74C839.49,903.74 841.26,844.84 843.03,838.35C844.81,831.87 846.58,860.47 848.35,876.82C850.13,893.17 851.9,917.43 853.67,936.43C855.45,955.43 857.22,974.92 858.99,990.83C860.76,1006.73 862.54,1020.78 864.31,1031.87C866.08,1042.96 867.86,1050.86 869.63,1057.36C871.4,1063.87 873.18,1068 874.95,1070.89C876.72,1073.78 878.49,1073.71 880.27,1074.72C882.04,1075.73 883.81,1075.7 885.59,1076.94C887.36,1078.18 889.13,1080.77 890.91,1082.16C892.68,1083.55 894.45,1084.82 896.22,1085.29C898,1085.77 899.77,1085.7 901.54,1085.01C903.32,1084.33 905.09,1084.37 906.86,1081.19C908.64,1078 910.41,1071.9 912.18,1065.92C913.96,1059.94 915.73,1052.29 917.5,1045.29C919.27,1038.3 921.05,1031.17 922.82,1023.94C924.59,1016.71 926.37,1010.35 928.14,1001.92C929.91,993.5 931.69,978.86 933.46,973.4C935.23,967.95 937,968.59 938.78,969.19C940.55,969.8 942.32,975.16 944.1,977.02C945.87,978.88 947.64,980.83 949.42,980.36C951.19,979.88 952.96,974.77 954.74,974.17C956.51,973.57 958.28,975.58 960.05,976.74C961.83,977.9 963.6,978.46 965.37,981.12C967.15,983.79 968.92,988.31 970.69,992.74C972.47,997.18 974.24,1004.18 976.01,1007.73C977.78,1011.28 979.56,1012.71 981.33,1014.06C983.1,1015.41 984.88,1013.95 986.65,1015.83C988.42,1017.72 990.2,1022.02 991.97,1025.36C993.74,1028.71 995.52,1033.04 997.29,1035.9C999.06,1038.77 1000.83,1038.84 1002.61,1042.55C1004.38,1046.26 1006.15,1054.17 1007.93,1058.16C1009.7,1062.16 1011.47,1063.47 1013.25,1066.51C1015.02,1069.55 1016.79,1073.42 1018.56,1076.42C1020.34,1079.42 1022.11,1082.22 1023.88,1084.53C1025.66,1086.83 1027.43,1088.63 1029.2,1090.26C1030.98,1091.9 1032.75,1093.25 1034.52,1094.33C1036.3,1095.42 1038.07,1096.25 1039.84,1096.77C1041.61,1097.29 1043.39,1097.67 1045.16,1097.46C1046.93,1097.26 1048.71,1096.3 1050.48,1095.55C1052.25,1094.8 1054.03,1093.28 1055.8,1092.98C1057.57,1092.68 1059.34,1094.04 1061.12,1093.74C1062.89,1093.44 1064.66,1091.97 1066.44,1091.17C1068.21,1090.37 1069.98,1089.86 1071.76,1088.94C1073.53,1088.02 1075.3,1087.07 1077.08,1085.64C1078.85,1084.21 1080.62,1082.67 1082.39,1080.35C1084.17,1078.03 1085.94,1075.4 1087.71,1071.73C1089.49,1068.06 1091.26,1062.54 1093.03,1058.34C1094.81,1054.13 1096.58,1050.53 1098.35,1046.51C1100.12,1042.49 1101.9,1038.09 1103.67,1034.23C1105.44,1030.38 1107.22,1035.27 1108.99,1023.38C1110.76,1011.5 1112.54,971.66 1114.31,962.93C1116.08,954.2 1117.85,965.5 1119.63,971C1121.4,976.51 1123.17,985.94 1124.95,995.98C1126.72,1006.02 1128.49,1019.64 1130.27,1031.24C1132.04,1042.85 1133.81,1057.4 1135.59,1065.6C1137.36,1073.81 1139.13,1076.31 1140.9,1080.49C1142.68,1084.68 1144.45,1088.51 1146.22,1090.72C1148,1092.92 1149.77,1092.66 1151.54,1093.71C1153.32,1094.76 1155.09,1096.19 1156.86,1097.01C1158.63,1097.83 1160.41,1099.03 1162.18,1098.65C1163.95,1098.26 1165.73,1095.34 1167.5,1094.68" fill="none" stroke="#FF5C93" stroke-width="2.2" stroke-linejoin="round" stroke-linecap="round"/>
<g fill="#FF5C93"><circle cx="805.8" cy="937.82" r="2.6"/><circle cx="811.12" cy="908.43" r="2.6"/><circle cx="816.44" cy="890.17" r="2.6"/><circle cx="821.76" cy="894.7" r="2.6"/><circle cx="827.08" cy="913.2" r="2.6"/><circle cx="832.4" cy="910.35" r="2.6"/><circle cx="837.71" cy="915.74" r="2.6"/><circle cx="843.03" cy="838.35" r="2.6"/><circle cx="848.35" cy="876.82" r="2.6"/><circle cx="853.67" cy="936.43" r="2.6"/><circle cx="858.99" cy="990.83" r="2.6"/><circle cx="864.31" cy="1031.87" r="2.6"/><circle cx="869.63" cy="1057.36" r="2.6"/><circle cx="874.95" cy="1070.89" r="2.6"/><circle cx="880.27" cy="1074.72" r="2.6"/><circle cx="885.59" cy="1076.94" r="2.6"/><circle cx="890.91" cy="1082.16" r="2.6"/><circle cx="896.22" cy="1085.29" r="2.6"/><circle cx="901.54" cy="1085.01" r="2.6"/><circle cx="906.86" cy="1081.19" r="2.6"/><circle cx="912.18" cy="1065.92" r="2.6"/><circle cx="917.5" cy="1045.29" r="2.6"/><circle cx="922.82" cy="1023.94" r="2.6"/><circle cx="928.14" cy="1001.92" r="2.6"/><circle cx="933.46" cy="973.4" r="2.6"/><circle cx="938.78" cy="969.19" r="2.6"/><circle cx="944.1" cy="977.02" r="2.6"/><circle cx="949.42" cy="980.36" r="2.6"/><circle cx="954.74" cy="974.17" r="2.6"/><circle cx="960.05" cy="976.74" r="2.6"/><circle cx="965.37" cy="981.12" r="2.6"/><circle cx="970.69" cy="992.74" r="2.6"/><circle cx="976.01" cy="1007.73" r="2.6"/><circle cx="981.33" cy="1014.06" r="2.6"/><circle cx="986.65" cy="1015.83" r="2.6"/><circle cx="991.97" cy="1025.36" r="2.6"/><circle cx="997.29" cy="1035.9" r="2.6"/><circle cx="1002.61" cy="1042.55" r="2.6"/><circle cx="1007.93" cy="1058.16" r="2.6"/><circle cx="1013.25" cy="1066.51" r="2.6"/><circle cx="1018.56" cy="1076.42" r="2.6"/><circle cx="1023.88" cy="1084.53" r="2.6"/><circle cx="1029.2" cy="1090.26" r="2.6"/><circle cx="1034.52" cy="1094.33" r="2.6"/><circle cx="1039.84" cy="1096.77" r="2.6"/><circle cx="1045.16" cy="1097.46" r="2.6"/><circle cx="1050.48" cy="1095.55" r="2.6"/><circle cx="1055.8" cy="1092.98" r="2.6"/><circle cx="1061.12" cy="1093.74" r="2.6"/><circle cx="1066.44" cy="1091.17" r="2.6"/><circle cx="1071.76" cy="1088.94" r="2.6"/><circle cx="1077.08" cy="1085.64" r="2.6"/><circle cx="1082.39" cy="1080.35" r="2.6"/><circle cx="1087.71" cy="1071.73" r="2.6"/><circle cx="1093.03" cy="1058.34" r="2.6"/><circle cx="1098.35" cy="1046.51" r="2.6"/><circle cx="1103.67" cy="1034.23" r="2.6"/><circle cx="1108.99" cy="1023.38" r="2.6"/><circle cx="1114.31" cy="962.93" r="2.6"/><circle cx="1119.63" cy="971" r="2.6"/><circle cx="1124.95" cy="995.98" r="2.6"/><circle cx="1130.27" cy="1031.24" r="2.6"/><circle cx="1135.59" cy="1065.6" r="2.6"/><circle cx="1140.9" cy="1080.49" r="2.6"/><circle cx="1146.22" cy="1090.72" r="2.6"/><circle cx="1151.54" cy="1093.71" r="2.6"/><circle cx="1156.86" cy="1097.01" r="2.6"/><circle cx="1162.18" cy="1098.65" r="2.6"/><circle cx="1167.5" cy="1094.68" r="2.6"/></g>
<path d="M805.8,889.48C807.57,887.28 809.35,878.52 811.12,876.26C812.89,874 814.67,880.13 816.44,875.91C818.21,871.69 819.98,855.37 821.76,850.94C823.53,846.51 825.3,850.65 827.08,849.34C828.85,848.04 830.62,842.72 832.4,843.12C834.17,843.51 835.94,857.99 837.71,851.71C839.49,845.43 841.26,811.02 843.03,805.45C844.81,799.89 846.58,809.57 848.35,818.32C850.13,827.07 851.9,842.44 853.67,857.93C855.45,873.43 857.22,892.95 858.99,911.29C860.76,929.63 862.54,951.61 864.31,967.98C866.08,984.34 867.86,998.67 869.63,1009.47C871.4,1020.27 873.18,1027.26 874.95,1032.81C876.72,1038.35 878.49,1039.7 880.27,1042.75C882.04,1045.81 883.81,1048.63 885.59,1051.14C887.36,1053.65 889.13,1056.02 890.91,1057.81C892.68,1059.61 894.45,1061.84 896.22,1061.92C898,1062 899.77,1061 901.54,1058.3C903.32,1055.6 905.09,1053.1 906.86,1045.71C908.64,1038.33 910.41,1025.83 912.18,1013.99C913.96,1002.15 915.73,987.76 917.5,974.69C919.27,961.62 921.05,951.12 922.82,935.56C924.59,920 926.37,902.8 928.14,881.34C929.91,859.88 931.69,821.17 933.46,806.81C935.23,792.44 937,791.22 938.78,795.16C940.55,799.09 942.32,819.83 944.1,830.42C945.87,841.01 947.64,853.16 949.42,858.7C951.19,864.24 952.96,859.9 954.74,863.67C956.51,867.45 958.28,871.26 960.05,881.34C961.83,891.42 963.6,911.94 965.37,924.15C967.15,936.37 968.92,943.51 970.69,954.62C972.47,965.73 974.24,982.32 976.01,990.83C977.78,999.33 979.56,1002.74 981.33,1005.64C983.1,1008.55 984.88,1007.09 986.65,1008.25C988.42,1009.41 990.2,1011.21 991.97,1012.6C993.74,1013.99 995.52,1014.32 997.29,1016.57C999.06,1018.81 1000.83,1022.84 1002.61,1026.06C1004.38,1029.28 1006.15,1032.09 1007.93,1035.9C1009.7,1039.72 1011.47,1044.86 1013.25,1048.95C1015.02,1053.03 1016.79,1056.73 1018.56,1060.39C1020.34,1064.05 1022.11,1067.42 1023.88,1070.89C1025.66,1074.36 1027.43,1077.95 1029.2,1081.22C1030.98,1084.49 1032.75,1088.12 1034.52,1090.51C1036.3,1092.9 1038.07,1094.78 1039.84,1095.55C1041.61,1096.32 1043.39,1095.43 1045.16,1095.13C1046.93,1094.83 1048.71,1093.67 1050.48,1093.74C1052.25,1093.81 1054.03,1094.76 1055.8,1095.55C1057.57,1096.34 1059.34,1097.92 1061.12,1098.51C1062.89,1099.1 1064.66,1099.1 1066.44,1099.1C1068.21,1099.1 1069.98,1098.91 1071.76,1098.51C1073.53,1098.1 1075.3,1098.19 1077.08,1096.66C1078.85,1095.13 1080.62,1092.04 1082.39,1089.32C1084.17,1086.61 1085.94,1083.31 1087.71,1080.35C1089.49,1077.39 1091.26,1074.77 1093.03,1071.55C1094.81,1068.34 1096.58,1064.51 1098.35,1061.05C1100.12,1057.59 1101.9,1054.46 1103.67,1050.79C1105.44,1047.12 1107.22,1043.66 1108.99,1039.03C1110.76,1034.41 1112.54,1031.43 1114.31,1023.03C1116.08,1014.63 1117.85,991.25 1119.63,988.64C1121.4,986.02 1123.17,1004.66 1124.95,1007.35C1126.72,1010.04 1128.49,1001.26 1130.27,1004.77C1132.04,1008.29 1133.81,1018.52 1135.59,1028.46C1137.36,1038.4 1139.13,1058.95 1140.9,1064.42C1142.68,1069.89 1144.45,1060.46 1146.22,1061.29C1148,1062.13 1149.77,1063.65 1151.54,1069.43C1153.32,1075.22 1155.09,1093.69 1156.86,1096C1158.63,1098.32 1160.41,1083.33 1162.18,1083.31C1163.95,1083.28 1165.73,1093.77 1167.5,1095.86" fill="none" stroke="#FAA61A" stroke-width="2.2" stroke-linejoin="round" stroke-linecap="round"/>
<g fill="#FAA61A"><circle cx="805.8" cy="889.48" r="2.6"/><circle cx="811.12" cy="876.26" r="2.6"/><circle cx="816.44" cy="875.91" r="2.6"/><circle cx="821.76" cy="850.94" r="2.6"/><circle cx="827.08" cy="849.34" r="2.6"/><circle cx="832.4" cy="843.12" r="2.6"/><circle cx="837.71" cy="851.71" r="2.6"/><circle cx="843.03" cy="805.45" r="2.6"/><circle cx="848.35" cy="818.32" r="2.6"/><circle cx="853.67" cy="857.93" r="2.6"/><circle cx="858.99" cy="911.29" r="2.6"/><circle cx="864.31" cy="967.98" r="2.6"/><circle cx="869.63" cy="1009.47" r="2.6"/><circle cx="874.95" cy="1032.81" r="2.6"/><circle cx="880.27" cy="1042.75" r="2.6"/><circle cx="885.59" cy="1051.14" r="2.6"/><circle cx="890.91" cy="1057.81" r="2.6"/><circle cx="896.22" cy="1061.92" r="2.6"/><circle cx="901.54" cy="1058.3" r="2.6"/><circle cx="906.86" cy="1045.71" r="2.6"/><circle cx="912.18" cy="1013.99" r="2.6"/><circle cx="917.5" cy="974.69" r="2.6"/><circle cx="922.82" cy="935.56" r="2.6"/><circle cx="928.14" cy="881.34" r="2.6"/><circle cx="933.46" cy="806.81" r="2.6"/><circle cx="938.78" cy="795.16" r="2.6"/><circle cx="944.1" cy="830.42" r="2.6"/><circle cx="949.42" cy="858.7" r="2.6"/><circle cx="954.74" cy="863.67" r="2.6"/><circle cx="960.05" cy="881.34" r="2.6"/><circle cx="965.37" cy="924.15" r="2.6"/><circle cx="970.69" cy="954.62" r="2.6"/><circle cx="976.01" cy="990.83" r="2.6"/><circle cx="981.33" cy="1005.64" r="2.6"/><circle cx="986.65" cy="1008.25" r="2.6"/><circle cx="991.97" cy="1012.6" r="2.6"/><circle cx="997.29" cy="1016.57" r="2.6"/><circle cx="1002.61" cy="1026.06" r="2.6"/><circle cx="1007.93" cy="1035.9" r="2.6"/><circle cx="1013.25" cy="1048.95" r="2.6"/><circle cx="1018.56" cy="1060.39" r="2.6"/><circle cx="1023.88" cy="1070.89" r="2.6"/><circle cx="1029.2" cy="1081.22" r="2.6"/><circle cx="1034.52" cy="1090.51" r="2.6"/><circle cx="1039.84" cy="1095.55" r="2.6"/><circle cx="1045.16" cy="1095.13" r="2.6"/><circle cx="1050.48" cy="1093.74" r="2.6"/><circle cx="1055.8" cy="1095.55" r="2.6"/><circle cx="1061.12" cy="1098.51" r="2.6"/><circle cx="1066.44" cy="1099.1" r="2.6"/><circle cx="1071.76" cy="1098.51" r="2.6"/><circle cx="1077.08" cy="1096.66" r="2.6"/><circle cx="1082.39" cy="1089.32" r="2.6"/><circle cx="1087.71" cy="1080.35" r="2.6"/><circle cx="1093.03" cy="1071.55" r="2.6"/><circle cx="1098.35" cy="1061.05" r="2.6"/><circle cx="1103.67" cy="1050.79" r="2.6"/><circle cx="1108.99" cy="1039.03" r="2.6"/><circle cx="1114.31" cy="1023.03" r="2.6"/><circle cx="1119.63" cy="988.64" r="2.6"/><circle cx="1124.95" cy="1007.35" r="2.6"/><circle cx="1130.27" cy="1004.77" r="2.6"/><circle cx="1135.59" cy="1028.46" r="2.6"/><circle cx="1140.9" cy="1064.42" r="2.6"/><circle cx="1146.22" cy="1061.29" r="2.6"/><circle cx="1151.54" cy="1069.43" r="2.6"/><circle cx="1156.86" cy="1096" r="2.6"/><circle cx="1162.18" cy="1083.31" r="2.6"/><circle cx="1167.5" cy="1095.86" r="2.6"/></g>
<path d="M805.8,887.98C807.57,887.75 809.35,892.05 811.12,886.56C812.89,881.07 814.67,865.67 816.44,855.05C818.21,844.42 819.98,833.09 821.76,822.81C823.53,812.52 825.3,797.4 827.08,793.31C828.85,789.23 830.62,799.36 832.4,798.29C834.17,797.21 835.94,785.41 837.71,786.84C839.49,788.27 841.26,800.47 843.03,806.88C844.81,813.28 846.58,813.62 848.35,825.28C850.13,836.93 851.9,857.6 853.67,876.82C855.45,896.04 857.22,920.57 858.99,940.61C860.76,960.64 862.54,981.54 864.31,997.02C866.08,1012.5 867.86,1024.45 869.63,1033.47C871.4,1042.49 873.18,1047.51 874.95,1051.14C876.72,1054.77 878.49,1054.52 880.27,1055.24C882.04,1055.96 883.81,1055.37 885.59,1055.45C887.36,1055.53 889.13,1055.65 890.91,1055.73C892.68,1055.8 894.45,1055.98 896.22,1055.9C898,1055.82 899.77,1056.67 901.54,1055.24C903.32,1053.81 905.09,1053.49 906.86,1047.31C908.64,1041.13 910.41,1029.8 912.18,1018.17C913.96,1006.53 915.73,990.84 917.5,977.47C919.27,964.11 921.05,950.67 922.82,937.96C924.59,925.26 926.37,916.38 928.14,901.23C929.91,886.09 931.69,855.29 933.46,847.12C935.23,838.94 937,847.05 938.78,852.19C940.55,857.34 942.32,870.8 944.1,878C945.87,885.2 947.64,890.84 949.42,895.39C951.19,899.94 952.96,901.79 954.74,905.3C956.51,908.82 958.28,912.2 960.05,916.5C961.83,920.8 963.6,922.57 965.37,931.11C967.15,939.65 968.92,956.99 970.69,967.73C972.47,978.48 974.24,988.77 976.01,995.59C977.78,1002.42 979.56,1005.08 981.33,1008.67C983.1,1012.26 984.88,1013.78 986.65,1017.12C988.42,1020.46 990.2,1025.18 991.97,1028.7C993.74,1032.23 995.52,1035.4 997.29,1038.27C999.06,1041.13 1000.83,1041.99 1002.61,1045.88C1004.38,1049.78 1006.15,1057.79 1007.93,1061.64C1009.7,1065.49 1011.47,1066.99 1013.25,1068.98C1015.02,1070.97 1016.79,1071.65 1018.56,1073.57C1020.34,1075.49 1022.11,1078.28 1023.88,1080.53C1025.66,1082.77 1027.43,1084.84 1029.2,1087.03C1030.98,1089.21 1032.75,1091.61 1034.52,1093.64C1036.3,1095.67 1038.07,1097.88 1039.84,1099.2C1041.61,1100.52 1043.39,1100.89 1045.16,1101.57C1046.93,1102.25 1048.71,1102.89 1050.48,1103.27C1052.25,1103.65 1054.03,1103.53 1055.8,1103.86C1057.57,1104.19 1059.34,1104.95 1061.12,1105.25C1062.89,1105.56 1064.66,1105.85 1066.44,1105.71C1068.21,1105.56 1069.98,1104.85 1071.76,1104.38C1073.53,1103.92 1075.3,1103.96 1077.08,1102.89C1078.85,1101.82 1080.62,1099.78 1082.39,1097.99C1084.17,1096.19 1085.94,1094.53 1087.71,1092.11C1089.49,1089.68 1091.26,1086.35 1093.03,1083.45C1094.81,1080.54 1096.58,1077.53 1098.35,1074.68C1100.12,1071.83 1101.9,1068.31 1103.67,1066.34C1105.44,1064.36 1107.22,1067.74 1108.99,1062.86C1110.76,1057.98 1112.54,1044.79 1114.31,1037.05C1116.08,1029.31 1117.85,1020.39 1119.63,1016.43C1121.4,1012.47 1123.17,1010.31 1124.95,1013.3C1126.72,1016.28 1128.49,1025.89 1130.27,1034.34C1132.04,1042.78 1133.81,1055.04 1135.59,1063.97C1137.36,1072.9 1139.13,1083.97 1140.9,1087.93C1142.68,1091.9 1144.45,1086.14 1146.22,1087.76C1148,1089.38 1149.77,1096.79 1151.54,1097.67C1153.32,1098.55 1155.09,1093.43 1156.86,1093.05C1158.63,1092.66 1160.41,1095.97 1162.18,1095.34C1163.95,1094.71 1165.73,1090.27 1167.5,1089.26" fill="none" stroke="#BF6BFF" stroke-width="2.2" stroke-linejoin="round" stroke-linecap="round"/>
<g fill="#BF6BFF"><circle cx="805.8" cy="887.98" r="2.6"/><circle cx="811.12" cy="886.56" r="2.6"/><circle cx="816.44" cy="855.05" r="2.6"/><circle cx="821.76" cy="822.81" r="2.6"/><circle cx="827.08" cy="793.31" r="2.6"/><circle cx="832.4" cy="798.29" r="2.6"/><circle cx="837.71" cy="786.84" r="2.6"/><circle cx="843.03" cy="806.88" r="2.6"/><circle cx="848.35" cy="825.28" r="2.6"/><circle cx="853.67" cy="876.82" r="2.6"/><circle cx="858.99" cy="940.61" r="2.6"/><circle cx="864.31" cy="997.02" r="2.6"/><circle cx="869.63" cy="1033.47" r="2.6"/><circle cx="874.95" cy="1051.14" r="2.6"/><circle cx="880.27" cy="1055.24" r="2.6"/><circle cx="885.59" cy="1055.45" r="2.6"/><circle cx="890.91" cy="1055.73" r="2.6"/><circle cx="896.22" cy="1055.9" r="2.6"/><circle cx="901.54" cy="1055.24" r="2.6"/><circle cx="906.86" cy="1047.31" r="2.6"/><circle cx="912.18" cy="1018.17" r="2.6"/><circle cx="917.5" cy="977.47" r="2.6"/><circle cx="922.82" cy="937.96" r="2.6"/><circle cx="928.14" cy="901.23" r="2.6"/><circle cx="933.46" cy="847.12" r="2.6"/><circle cx="938.78" cy="852.19" r="2.6"/><circle cx="944.1" cy="878" r="2.6"/><circle cx="949.42" cy="895.39" r="2.6"/><circle cx="954.74" cy="905.3" r="2.6"/><circle cx="960.05" cy="916.5" r="2.6"/><circle cx="965.37" cy="931.11" r="2.6"/><circle cx="970.69" cy="967.73" r="2.6"/><circle cx="976.01" cy="995.59" r="2.6"/><circle cx="981.33" cy="1008.67" r="2.6"/><circle cx="986.65" cy="1017.12" r="2.6"/><circle cx="991.97" cy="1028.7" r="2.6"/><circle cx="997.29" cy="1038.27" r="2.6"/><circle cx="1002.61" cy="1045.88" r="2.6"/><circle cx="1007.93" cy="1061.64" r="2.6"/><circle cx="1013.25" cy="1068.98" r="2.6"/><circle cx="1018.56" cy="1073.57" r="2.6"/><circle cx="1023.88" cy="1080.53" r="2.6"/><circle cx="1029.2" cy="1087.03" r="2.6"/><circle cx="1034.52" cy="1093.64" r="2.6"/><circle cx="1039.84" cy="1099.2" r="2.6"/><circle cx="1045.16" cy="1101.57" r="2.6"/><circle cx="1050.48" cy="1103.27" r="2.6"/><circle cx="1055.8" cy="1103.86" r="2.6"/><circle cx="1061.12" cy="1105.25" r="2.6"/><circle cx="1066.44" cy="1105.71" r="2.6"/><circle cx="1071.76" cy="1104.38" r="2.6"/><circle cx="1077.08" cy="1102.89" r="2.6"/><circle cx="1082.39" cy="1097.99" r="2.6"/><circle cx="1087.71" cy="1092.11" r="2.6"/><circle cx="1093.03" cy="1083.45" r="2.6"/><circle cx="1098.35" cy="1074.68" r="2.6"/><circle cx="1103.67" cy="1066.34" r="2.6"/><circle cx="1108.99" cy="1062.86" r="2.6"/><circle cx="1114.31" cy="1037.05" r="2.6"/><circle cx="1119.63" cy="1016.43" r="2.6"/><circle cx="1124.95" cy="1013.3" r="2.6"/><circle cx="1130.27" cy="1034.34" r="2.6"/><circle cx="1135.59" cy="1063.97" r="2.6"/><circle cx="1140.9" cy="1087.93" r="2.6"/><circle cx="1146.22" cy="1087.76" r="2.6"/><circle cx="1151.54" cy="1097.67" r="2.6"/><circle cx="1156.86" cy="1093.05" r="2.6"/><circle cx="1162.18" cy="1095.34" r="2.6"/><circle cx="1167.5" cy="1089.26" r="2.6"/></g>
</g>
<line x1="787.3" x2="1185.7" y1="1131.2" y2="1131.2" class="a"/>
<line x1="805.8" x2="805.8" y1="1131.8" y2="1136.1" class="t"/>
<text x="805" y="1151.7" class="xt" font-size="6.7" transform="rotate(-45 805 1149.5)">Jul 20</text>
<line x1="816.44" x2="816.44" y1="1131.8" y2="1136.1" class="t"/>
<text x="815.64" y="1151.7" class="xt" font-size="6.7" transform="rotate(-45 815.64 1149.5)">Aug 03</text>
<line x1="827.08" x2="827.08" y1="1131.8" y2="1136.1" class="t"/>
<text x="826.28" y="1151.7" class="xt" font-size="6.7" transform="rotate(-45 826.28 1149.5)">Aug 17</text>
<line x1="837.71" x2="837.71" y1="1131.8" y2="1136.1" class="t"/>
<text x="836.91" y="1151.7" class="xt" font-size="6.7" transform="rotate(-45 836.91 1149.5)">Aug 31</text>
<line x1="848.35" x2="848.35" y1="1131.8" y2="1136.1" class="t"/>
<text x="847.55" y="1151.7" class="xt" font-size="6.7" transform="rotate(-45 847.55 1149.5)">Sep 14</text>
<line x1="858.99" x2="858.99" y1="1131.8" y2="1136.1" class="t"/>
<text x="858.19" y="1151.7" class="xt" font-size="6.7" transform="rotate(-45 858.19 1149.5)">Sep 28</text>
<line x1="869.63" x2="869.63" y1="1131.8" y2="1136.1" class="t"/>
<text x="868.83" y="1151.7" class="xt" font-size="6.7" transform="rotate(-45 868.83 1149.5)">Oct 12</text>
<line x1="880.27" x2="880.27" y1="1131.8" y2="1136.1" class="t"/>
<text x="879.47" y="1151.7" class="xt" font-size="6.7" transform="rotate(-45 879.47 1149.5)">Oct 26</text>
<line x1="890.91" x2="890.91" y1="1131.8" y2="1136.1" class="t"/>
<text x="890.11" y="1151.7" class="xt" font-size="6.7" transform="rotate(-45 890.11 1149.5)">Nov 09</text>
<line x1="901.54" x2="901.54" y1="1131.8" y2="1136.1" class="t"/>
<text x="900.74" y="1151.7" class="xt" font-size="6.7" transform="rotate(-45 900.74 1149.5)">Nov 23</text>
<line x1="912.18" x2="912.18" y1="1131.8" y2="1136.1" class="t"/>
<text x="911.38" y="1151.7" class="xt" font-size="6.7" transform="rotate(-45 911.38 1149.5)">Dec 07</text>
<line x1="922.82" x2="922.82" y1="1131.8" y2="1136.1" class="t"/>
<text x="922.02" y="1151.7" class="xt" font-size="6.7" transform="rotate(-45 922.02 1149.5)">Dec 21</text>
<line x1="933.46" x2="933.46" y1="1131.8" y2="1136.1" class="t"/>
<text x="932.66" y="1151.7" class="xt" font-size="6.7" transform="rotate(-45 932.66 1149.5)">Jan 04</text>
<line x1="944.1" x2="944.1" y1="1131.8" y2="1136.1" class="t"/>
<text x="943.3" y="1151.7" class="xt" font-size="6.7" transform="rotate(-45 943.3 1149.5)">Jan 18</text>
<line x1="954.74" x2="954.74" y1="1131.8" y2="1136.1" class="t"/>
<text x="953.94" y="1151.7" class="xt" font-size="6.7" transform="rotate(-45 953.94 1149.5)">Feb 01</text>
<line x1="965.37" x2="965.37" y1="1131.8" y2="1136.1" class="t"/>
<text x="964.57" y="1151.7" class="xt" font-size="6.7" transform="rotate(-45 964.57 1149.5)">Feb 15</text>
<line x1="976.01" x2="976.01" y1="1131.8" y2="1136.1" class="t"/>
<text x="975.21" y="1151.7" class="xt" font-size="6.7" transform="rotate(-45 975.21 1149.5)">Mar 01</text>
<line x1="986.65" x2="986.65" y1="1131.8" y2="1136.1" class="t"/>
<text x="985.85" y="1151.7" class="xt" font-size="6.7" transform="rotate(-45 985.85 1149.5)">Mar 15</text>
<line x1="997.29" x2="997.29" y1="1131.8" y2="1136.1" class="t"/>
<text x="996.49" y="1151.7" class="xt" font-size="6.7" transform="rotate(-45 996.49 1149.5)">Mar 29</text>
<line x1="1007.93" x2="1007.93" y1="1131.8" y2="1136.1" class="t"/>
<text x="1007.13" y="1151.7" class="xt" font-size="6.7" transform="rotate(-45 1007.13 1149.5)">Apr 12</text>
<line x1="1018.56" x2="1018.56" y1="1131.8" y2="1136.1" class="t"/>
<text x="1017.76" y="1151.7" class="xt" font-size="6.7" transform="rotate(-45 1017.76 1149.5)">Apr 26</text>
<line x1="1029.2" x2="1029.2" y1="1131.8" y2="1136.1" class="t"/>
<text x="1028.4" y="1151.7" class="xt" font-size="6.7" transform="rotate(-45 1028.4 1149.5)">May 10</text>
<line x1="1039.84" x2="1039.84" y1="1131.8" y2="1136.1" class="t"/>
<text x="1039.04" y="1151.7" class="xt" font-size="6.7" transform="rotate(-45 1039.04 1149.5)">May 24</text>
<line x1="1050.48" x2="1050.48" y1="1131.8" y2="1136.1" class="t"/>
<text x="1049.68" y="1151.7" class="xt" font-size="6.7" transform="rotate(-45 1049.68 1149.5)">Jun 07</text>
<line x1="1061.12" x2="1061.12" y1="1131.8" y2="1136.1" class="t"/>
<text x="1060.32" y="1151.7" class="xt" font-size="6.7" transform="rotate(-45 1060.32 1149.5)">Jun 21</text>
<line x1="1071.76" x2="1071.76" y1="1131.8" y2="1136.1" class="t"/>
<text x="1070.96" y="1151.7" class="xt" font-size="6.7" transform="rotate(-45 1070.96 1149.5)">Jul 05</text>
<line x1="1082.39" x2="1082.39" y1="1131.8" y2="1136.1" class="t"/>
<text x="1081.59" y="1151.7" class="xt" font-size="6.7" transform="rotate(-45 1081.59 1149.5)">Jul 19</text>
<line x1="1093.03" x2="1093.03" y1="1131.8" y2="1136.1" class="t"/>
<text x="1092.23" y="1151.7" class="xt" font-size="6.7" transform="rotate(-45 1092.23 1149.5)">Aug 02</text>
<line x1="1103.67" x2="1103.67" y1="1131.8" y2="1136.1" class="t"/>
<text x="1102.87" y="1151.7" class="xt" font-size="6.7" transform="rotate(-45 1102.87 1149.5)">Aug 16</text>
<line x1="1114.31" x2="1114.31" y1="1131.8" y2="1136.1" class="t"/>
<text x="1113.51" y="1151.7" class="xt" font-size="6.7" transform="rotate(-45 1113.51 1149.5)">Aug 30</text>
<line x1="1124.95" x2="1124.95" y1="1131.8" y2="1136.1" class="t"/>
<text x="1124.15" y="1151.7" class="xt" font-size="6.7" transform="rotate(-45 1124.15 1149.5)">Sep 13</text>
<line x1="1135.59" x2="1135.59" y1="1131.8" y2="1136.1" class="t"/>
<text x="1134.79" y="1151.7" class="xt" font-size="6.7" transform="rotate(-45 1134.79 1149.5)">Sep 27</text>
<line x1="1146.22" x2="1146.22" y1="1131.8" y2="1136.1" class="t"/>
<text x="1145.42" y="1151.7" class="xt" font-size="6.7" transform="rotate(-45 1145.42 1149.5)">Oct 11</text>
<line x1="1156.86" x2="1156.86" y1="1131.8" y2="1136.1" class="t"/>
<text x="1156.06" y="1151.7" class="xt" font-size="6.7" transform="rotate(-45 1156.06 1149.5)">Oct 25</text>
<line x1="1167.5" x2="1167.5" y1="1131.8" y2="1136.1" class="t"/>
<text x="1166.7" y="1151.7" class="xt" font-size="6.7" transform="rotate(-45 1166.7 1149.5)">Nov 08</text>
<text x="743.5" y="950.8" class="yl" font-size="13.45" textLength="210.5" lengthAdjust="spacing" transform="rotate(-90 743.5 950.8)">Effective concentration, copies/mL</text>
<rect x="1070.3" y="777.3" width="108.4" height="79.7" rx="2.5" fill="#fff" fill-opacity="0.8" stroke="#d2d2d2" stroke-width="1"/>
<line x1="1075.1" x2="1103.2" y1="787.8" y2="787.8" stroke="#6FDC9B" stroke-width="2.2"/>
<text transform="translate(1113.4 792.6) scale(1.06 1)" class="lt" font-size="13.07">West</text>
<line x1="1075.1" x2="1103.2" y1="806.57" y2="806.57" stroke="#FF5C93" stroke-width="2.2"/>
<text transform="translate(1113.4 811.37) scale(1.06 1)" class="lt" font-size="13.07">South</text>
<line x1="1075.1" x2="1103.2" y1="825.34" y2="825.34" stroke="#FAA61A" stroke-width="2.2"/>
<text transform="translate(1113.4 830.14) scale(1.06 1)" class="lt" font-size="13.07">Northeast</text>
<line x1="1075.1" x2="1103.2" y1="844.11" y2="844.11" stroke="#BF6BFF" stroke-width="2.2"/>
<text transform="translate(1113.4 848.91) scale(1.06 1)" class="lt" font-size="13.07">Midwest</text>
<text x="986.35" y="1216.7" class="ct" font-size="16" textLength="75" lengthAdjust="spacingAndGlyphs">COVID-19</text>
<g>
<rect x="35.5" y="1275.5" width="53.3" height="53.8" fill="none" stroke="#0f2b4d" stroke-width="2.9"/>
<text x="48.9" y="1298.15" class="lg" font-size="16.7" textLength="10.5" lengthAdjust="spacingAndGlyphs">B</text>
<rect x="60.4" y="1285.7" width="3.2" height="12.9" fill="#0f2b4d"/>
<text x="74.9" y="1298.15" class="lg" font-size="16.7" textLength="11.5" lengthAdjust="spacingAndGlyphs">O</text>
<text x="48.9" y="1318.1" class="lg" font-size="16.7" textLength="10.5" lengthAdjust="spacingAndGlyphs">B</text>
<text x="62.2" y="1318.1" class="lg" font-size="16.7" textLength="11.5" lengthAdjust="spacingAndGlyphs">O</text>
<text x="75" y="1318.1" class="lg" font-size="16.7" textLength="9.4" lengthAdjust="spacingAndGlyphs">T</text>
</g>
</svg>
</body></html>
